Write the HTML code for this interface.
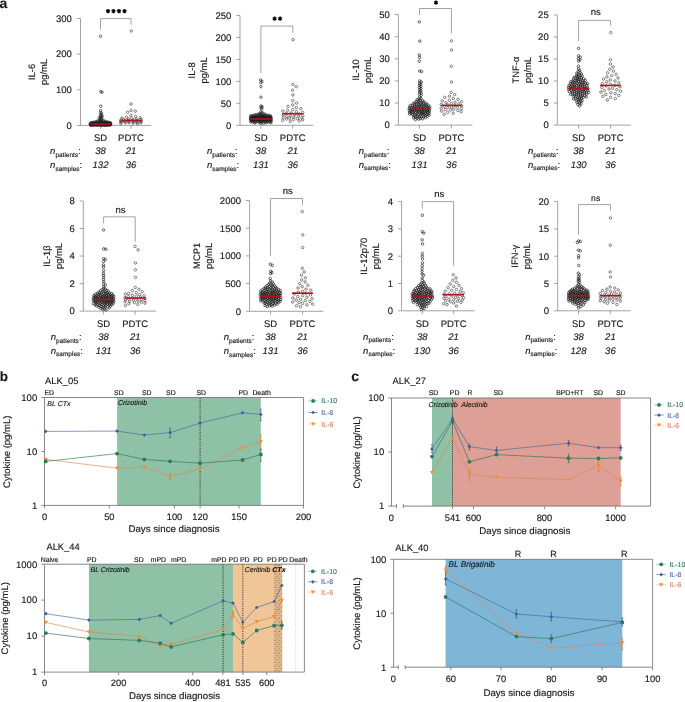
<!DOCTYPE html>
<html><head><meta charset="utf-8"><style>
html,body{margin:0;padding:0;background:#fff;}
svg{display:block;will-change:transform;}
text{font-family:"Liberation Sans", sans-serif;fill:#1a1a1a;text-rendering:geometricPrecision;stroke:currentColor;stroke-width:0.15px;stroke-linejoin:round;color:#1a1a1a;}
</style></head><body>
<svg width="685" height="702" viewBox="0 0 685 702">
<rect width="685" height="702" fill="#fff"/>
<g stroke="#8c8c8c" stroke-width="0.8" fill="none">
<path d="M80.5,18.5 V125.4 H151.3"/>
<path d="M76.9,125.40 H80.5"/>
<path d="M76.9,89.77 H80.5"/>
<path d="M76.9,54.13 H80.5"/>
<path d="M76.9,18.50 H80.5"/>
<path d="M100.5,125.4 V128.8"/>
<path d="M131.0,125.4 V128.8"/>
<path d="M100.5,29.6 V18.6 H131.0 V24.6"/>
</g>
<text x="71.90" y="128.75" font-size="9.5" text-anchor="end" >0</text>
<text x="71.90" y="93.12" font-size="9.5" text-anchor="end" >100</text>
<text x="71.90" y="57.48" font-size="9.5" text-anchor="end" >200</text>
<text x="71.90" y="21.85" font-size="9.5" text-anchor="end" >300</text>
<path d="M108.00,8.95 L108.00,13.25 M106.14,10.03 L109.86,12.18 M109.86,10.03 L106.14,12.18" stroke="#000" stroke-width="1.45"/>
<path d="M113.50,8.95 L113.50,13.25 M111.64,10.03 L115.36,12.18 M115.36,10.03 L111.64,12.18" stroke="#000" stroke-width="1.45"/>
<path d="M119.00,8.95 L119.00,13.25 M117.14,10.03 L120.86,12.18 M120.86,10.03 L117.14,12.18" stroke="#000" stroke-width="1.45"/>
<path d="M124.50,8.95 L124.50,13.25 M122.64,10.03 L126.36,12.18 M126.36,10.03 L122.64,12.18" stroke="#000" stroke-width="1.45"/>
<text transform="translate(35.40,71.95) rotate(-90)" font-size="9.4" text-anchor="middle">IL-6</text>
<text transform="translate(47.40,71.95) rotate(-90)" font-size="9.4" text-anchor="middle">pg/mL</text>
<text x="100.50" y="141.10" font-size="9.5" text-anchor="middle" >SD</text>
<text x="131.00" y="141.10" font-size="9.5" text-anchor="middle" >PDTC</text>
<text x="50.1" y="154.40" font-size="9.5"><tspan font-style="italic">n</tspan><tspan font-size="6.5" dy="2.6">patients</tspan><tspan dy="-2.6">:</tspan></text>
<text x="100.50" y="154.40" font-size="9.5" text-anchor="middle" font-style="italic">38</text>
<text x="131.00" y="154.40" font-size="9.5" text-anchor="middle" font-style="italic">21</text>
<text x="50.1" y="168.10" font-size="9.5"><tspan font-style="italic">n</tspan><tspan font-size="6.5" dy="2.6">samples</tspan><tspan dy="-2.6">:</tspan></text>
<text x="100.50" y="168.10" font-size="9.5" text-anchor="middle" font-style="italic">132</text>
<text x="131.00" y="168.10" font-size="9.5" text-anchor="middle" font-style="italic">36</text>
<g fill="none" stroke="#1c1c1c" stroke-width="0.66">
<circle cx="100.49" cy="36.32" r="1.25"/>
<circle cx="100.74" cy="91.55" r="1.25"/>
<circle cx="102.02" cy="92.26" r="1.25"/>
<circle cx="100.73" cy="106.16" r="1.25"/>
<circle cx="100.54" cy="110.61" r="1.25"/>
<circle cx="100.80" cy="112.54" r="1.25"/>
<circle cx="101.41" cy="113.54" r="1.25"/>
<circle cx="100.60" cy="114.84" r="1.25"/>
<circle cx="101.99" cy="115.55" r="1.25"/>
<circle cx="100.54" cy="116.30" r="1.25"/>
<circle cx="101.89" cy="116.90" r="1.25"/>
<circle cx="100.68" cy="117.67" r="1.25"/>
<circle cx="99.19" cy="117.98" r="1.25"/>
<circle cx="101.60" cy="118.55" r="1.25"/>
<circle cx="100.55" cy="119.61" r="1.25"/>
<circle cx="101.73" cy="119.93" r="1.25"/>
<circle cx="99.16" cy="120.32" r="1.25"/>
<circle cx="103.40" cy="120.64" r="1.25"/>
<circle cx="100.76" cy="120.90" r="1.25"/>
<circle cx="97.34" cy="121.13" r="1.25"/>
<circle cx="104.88" cy="121.32" r="1.25"/>
<circle cx="102.27" cy="121.49" r="1.25"/>
<circle cx="99.48" cy="121.65" r="1.25"/>
<circle cx="96.22" cy="121.79" r="1.25"/>
<circle cx="106.56" cy="121.91" r="1.25"/>
<circle cx="94.44" cy="122.03" r="1.25"/>
<circle cx="107.91" cy="122.14" r="1.25"/>
<circle cx="101.21" cy="122.23" r="1.25"/>
<circle cx="98.13" cy="122.33" r="1.25"/>
<circle cx="103.52" cy="122.41" r="1.25"/>
<circle cx="92.86" cy="122.49" r="1.25"/>
<circle cx="109.76" cy="122.57" r="1.25"/>
<circle cx="105.10" cy="122.64" r="1.25"/>
<circle cx="91.71" cy="122.71" r="1.25"/>
<circle cx="101.86" cy="122.77" r="1.25"/>
<circle cx="99.56" cy="122.84" r="1.25"/>
<circle cx="96.47" cy="122.89" r="1.25"/>
<circle cx="106.90" cy="122.95" r="1.25"/>
<circle cx="95.19" cy="123.00" r="1.25"/>
<circle cx="110.56" cy="123.05" r="1.25"/>
<circle cx="90.80" cy="123.10" r="1.25"/>
<circle cx="108.70" cy="123.15" r="1.25"/>
<circle cx="93.71" cy="123.20" r="1.25"/>
<circle cx="98.07" cy="123.24" r="1.25"/>
<circle cx="100.37" cy="123.28" r="1.25"/>
<circle cx="106.18" cy="123.32" r="1.25"/>
<circle cx="104.19" cy="123.36" r="1.25"/>
<circle cx="92.31" cy="123.40" r="1.25"/>
<circle cx="102.76" cy="123.44" r="1.25"/>
<circle cx="96.52" cy="123.48" r="1.25"/>
<circle cx="99.20" cy="123.51" r="1.25"/>
<circle cx="109.58" cy="123.55" r="1.25"/>
<circle cx="107.29" cy="123.58" r="1.25"/>
<circle cx="101.02" cy="123.61" r="1.25"/>
<circle cx="90.48" cy="123.64" r="1.25"/>
<circle cx="104.73" cy="123.67" r="1.25"/>
<circle cx="95.28" cy="123.70" r="1.25"/>
<circle cx="93.24" cy="123.73" r="1.25"/>
<circle cx="92.24" cy="123.76" r="1.25"/>
<circle cx="97.48" cy="123.79" r="1.25"/>
<circle cx="110.31" cy="123.82" r="1.25"/>
<circle cx="103.41" cy="123.84" r="1.25"/>
<circle cx="105.83" cy="123.87" r="1.25"/>
<circle cx="99.38" cy="123.89" r="1.25"/>
<circle cx="108.43" cy="123.92" r="1.25"/>
<circle cx="101.98" cy="123.94" r="1.25"/>
<circle cx="94.99" cy="123.97" r="1.25"/>
<circle cx="91.78" cy="123.99" r="1.25"/>
<circle cx="106.72" cy="124.01" r="1.25"/>
<circle cx="96.96" cy="124.04" r="1.25"/>
<circle cx="104.85" cy="124.06" r="1.25"/>
<circle cx="109.76" cy="124.08" r="1.25"/>
<circle cx="93.41" cy="124.10" r="1.25"/>
<circle cx="98.33" cy="124.12" r="1.25"/>
<circle cx="100.72" cy="124.15" r="1.25"/>
<circle cx="90.32" cy="124.17" r="1.25"/>
<circle cx="103.56" cy="124.19" r="1.25"/>
<circle cx="110.61" cy="124.21" r="1.25"/>
<circle cx="102.26" cy="124.23" r="1.25"/>
<circle cx="95.93" cy="124.25" r="1.25"/>
<circle cx="94.58" cy="124.26" r="1.25"/>
<circle cx="107.92" cy="124.28" r="1.25"/>
<circle cx="106.23" cy="124.30" r="1.25"/>
<circle cx="92.71" cy="124.32" r="1.25"/>
<circle cx="100.23" cy="124.34" r="1.25"/>
<circle cx="98.25" cy="124.36" r="1.25"/>
<circle cx="104.77" cy="124.38" r="1.25"/>
<circle cx="90.67" cy="124.39" r="1.25"/>
<circle cx="108.22" cy="124.41" r="1.25"/>
<circle cx="103.22" cy="124.43" r="1.25"/>
<circle cx="96.64" cy="124.45" r="1.25"/>
<circle cx="101.59" cy="124.46" r="1.25"/>
<circle cx="110.56" cy="124.48" r="1.25"/>
<circle cx="94.79" cy="124.50" r="1.25"/>
<circle cx="92.93" cy="124.51" r="1.25"/>
<circle cx="91.58" cy="124.53" r="1.25"/>
<circle cx="98.69" cy="124.55" r="1.25"/>
<circle cx="105.98" cy="124.56" r="1.25"/>
<circle cx="109.46" cy="124.58" r="1.25"/>
<circle cx="100.22" cy="124.59" r="1.25"/>
<circle cx="104.40" cy="124.61" r="1.25"/>
<circle cx="102.61" cy="124.63" r="1.25"/>
<circle cx="107.31" cy="124.64" r="1.25"/>
<circle cx="96.13" cy="124.66" r="1.25"/>
<circle cx="97.69" cy="124.67" r="1.25"/>
<circle cx="100.89" cy="124.69" r="1.25"/>
<circle cx="90.63" cy="124.71" r="1.25"/>
<circle cx="92.79" cy="124.72" r="1.25"/>
<circle cx="94.03" cy="124.74" r="1.25"/>
<circle cx="98.75" cy="124.75" r="1.25"/>
<circle cx="109.01" cy="124.77" r="1.25"/>
<circle cx="103.23" cy="124.79" r="1.25"/>
<circle cx="106.06" cy="124.80" r="1.25"/>
<circle cx="110.29" cy="124.82" r="1.25"/>
<circle cx="95.59" cy="124.83" r="1.25"/>
<circle cx="107.39" cy="124.85" r="1.25"/>
<circle cx="104.76" cy="124.87" r="1.25"/>
<circle cx="91.27" cy="124.88" r="1.25"/>
<circle cx="97.18" cy="124.90" r="1.25"/>
<circle cx="101.36" cy="124.92" r="1.25"/>
<circle cx="99.59" cy="124.94" r="1.25"/>
<circle cx="93.61" cy="124.95" r="1.25"/>
<circle cx="94.75" cy="124.97" r="1.25"/>
<circle cx="109.36" cy="124.99" r="1.25"/>
<circle cx="90.62" cy="125.01" r="1.25"/>
<circle cx="106.07" cy="125.03" r="1.25"/>
<circle cx="102.96" cy="125.06" r="1.25"/>
<circle cx="97.44" cy="125.08" r="1.25"/>
<circle cx="107.52" cy="125.11" r="1.25"/>
<circle cx="104.70" cy="125.14" r="1.25"/>
<circle cx="91.74" cy="125.18" r="1.25"/>
<circle cx="101.09" cy="125.23" r="1.25"/>
</g>
<path d="M90.00,124.08 H111.00" stroke="#b3131b" stroke-width="1.6"/>
<g fill="none" stroke="#2e2e2e" stroke-width="0.58">
<circle cx="131.26" cy="30.97" r="1.25"/>
<circle cx="131.05" cy="104.02" r="1.25"/>
<circle cx="131.04" cy="110.43" r="1.25"/>
<circle cx="135.21" cy="111.15" r="1.25"/>
<circle cx="127.61" cy="112.22" r="1.25"/>
<circle cx="130.88" cy="115.43" r="1.25"/>
<circle cx="135.51" cy="116.43" r="1.25"/>
<circle cx="126.58" cy="117.15" r="1.25"/>
<circle cx="140.04" cy="117.70" r="1.25"/>
<circle cx="121.97" cy="118.15" r="1.25"/>
<circle cx="131.71" cy="118.54" r="1.25"/>
<circle cx="136.25" cy="118.88" r="1.25"/>
<circle cx="128.57" cy="119.18" r="1.25"/>
<circle cx="141.10" cy="119.45" r="1.25"/>
<circle cx="123.70" cy="119.70" r="1.25"/>
<circle cx="132.87" cy="119.93" r="1.25"/>
<circle cx="120.84" cy="120.15" r="1.25"/>
<circle cx="137.24" cy="120.35" r="1.25"/>
<circle cx="128.10" cy="120.54" r="1.25"/>
<circle cx="124.88" cy="120.73" r="1.25"/>
<circle cx="141.08" cy="120.90" r="1.25"/>
<circle cx="133.07" cy="121.07" r="1.25"/>
<circle cx="136.50" cy="121.24" r="1.25"/>
<circle cx="120.84" cy="121.40" r="1.25"/>
<circle cx="129.04" cy="121.56" r="1.25"/>
<circle cx="141.06" cy="121.72" r="1.25"/>
<circle cx="124.73" cy="121.88" r="1.25"/>
<circle cx="133.53" cy="122.04" r="1.25"/>
<circle cx="121.21" cy="122.20" r="1.25"/>
<circle cx="137.16" cy="122.36" r="1.25"/>
<circle cx="129.03" cy="122.53" r="1.25"/>
<circle cx="125.73" cy="122.71" r="1.25"/>
<circle cx="140.65" cy="122.91" r="1.25"/>
<circle cx="132.99" cy="123.13" r="1.25"/>
<circle cx="120.82" cy="123.40" r="1.25"/>
<circle cx="137.34" cy="123.83" r="1.25"/>
</g>
<path d="M120.50,120.48 H141.50" stroke="#b3131b" stroke-width="1.6"/>
<g stroke="#8c8c8c" stroke-width="0.8" fill="none">
<path d="M240.0,15.5 V125.3 H313.2"/>
<path d="M236.4,125.30 H240.0"/>
<path d="M236.4,103.34 H240.0"/>
<path d="M236.4,81.38 H240.0"/>
<path d="M236.4,59.42 H240.0"/>
<path d="M236.4,37.46 H240.0"/>
<path d="M236.4,15.50 H240.0"/>
<path d="M260.9,125.3 V128.7"/>
<path d="M292.8,125.3 V128.7"/>
<path d="M260.9,73.0 V26.1 H292.8 V32.8"/>
</g>
<text x="231.40" y="128.65" font-size="9.5" text-anchor="end" >0</text>
<text x="231.40" y="106.69" font-size="9.5" text-anchor="end" >50</text>
<text x="231.40" y="84.73" font-size="9.5" text-anchor="end" >100</text>
<text x="231.40" y="62.77" font-size="9.5" text-anchor="end" >150</text>
<text x="231.40" y="40.81" font-size="9.5" text-anchor="end" >200</text>
<text x="231.40" y="18.85" font-size="9.5" text-anchor="end" >250</text>
<path d="M274.60,16.45 L274.60,20.75 M272.74,17.53 L276.46,19.68 M276.46,17.53 L272.74,19.68" stroke="#000" stroke-width="1.45"/>
<path d="M280.10,16.45 L280.10,20.75 M278.24,17.53 L281.96,19.68 M281.96,17.53 L278.24,19.68" stroke="#000" stroke-width="1.45"/>
<text transform="translate(195.00,70.40) rotate(-90)" font-size="9.4" text-anchor="middle">IL-8</text>
<text transform="translate(207.00,70.40) rotate(-90)" font-size="9.4" text-anchor="middle">pg/mL</text>
<text x="260.90" y="141.00" font-size="9.5" text-anchor="middle" >SD</text>
<text x="292.80" y="141.00" font-size="9.5" text-anchor="middle" >PDTC</text>
<text x="207.0" y="154.30" font-size="9.5"><tspan font-style="italic">n</tspan><tspan font-size="6.5" dy="2.6">patients</tspan><tspan dy="-2.6">:</tspan></text>
<text x="260.90" y="154.30" font-size="9.5" text-anchor="middle" font-style="italic">38</text>
<text x="292.80" y="154.30" font-size="9.5" text-anchor="middle" font-style="italic">21</text>
<text x="207.0" y="168.00" font-size="9.5"><tspan font-style="italic">n</tspan><tspan font-size="6.5" dy="2.6">samples</tspan><tspan dy="-2.6">:</tspan></text>
<text x="260.90" y="168.00" font-size="9.5" text-anchor="middle" font-style="italic">131</text>
<text x="292.80" y="168.00" font-size="9.5" text-anchor="middle" font-style="italic">36</text>
<g fill="none" stroke="#1c1c1c" stroke-width="0.66">
<circle cx="260.63" cy="80.06" r="1.25"/>
<circle cx="261.92" cy="81.38" r="1.25"/>
<circle cx="260.87" cy="82.70" r="1.25"/>
<circle cx="261.01" cy="86.65" r="1.25"/>
<circle cx="260.96" cy="97.19" r="1.25"/>
<circle cx="261.06" cy="105.98" r="1.25"/>
<circle cx="262.13" cy="106.85" r="1.25"/>
<circle cx="260.98" cy="107.73" r="1.25"/>
<circle cx="261.73" cy="109.05" r="1.25"/>
<circle cx="260.90" cy="111.81" r="1.25"/>
<circle cx="262.22" cy="112.79" r="1.25"/>
<circle cx="259.91" cy="113.31" r="1.25"/>
<circle cx="263.60" cy="113.68" r="1.25"/>
<circle cx="258.56" cy="113.97" r="1.25"/>
<circle cx="261.69" cy="114.22" r="1.25"/>
<circle cx="265.39" cy="114.43" r="1.25"/>
<circle cx="256.67" cy="114.61" r="1.25"/>
<circle cx="255.16" cy="114.78" r="1.25"/>
<circle cx="259.76" cy="114.93" r="1.25"/>
<circle cx="262.71" cy="115.07" r="1.25"/>
<circle cx="266.70" cy="115.20" r="1.25"/>
<circle cx="269.09" cy="115.33" r="1.25"/>
<circle cx="253.25" cy="115.44" r="1.25"/>
<circle cx="251.11" cy="115.55" r="1.25"/>
<circle cx="258.68" cy="115.66" r="1.25"/>
<circle cx="264.27" cy="115.76" r="1.25"/>
<circle cx="261.67" cy="115.85" r="1.25"/>
<circle cx="270.33" cy="115.95" r="1.25"/>
<circle cx="255.91" cy="116.04" r="1.25"/>
<circle cx="266.02" cy="116.12" r="1.25"/>
<circle cx="259.88" cy="116.20" r="1.25"/>
<circle cx="268.04" cy="116.29" r="1.25"/>
<circle cx="254.10" cy="116.36" r="1.25"/>
<circle cx="263.00" cy="116.44" r="1.25"/>
<circle cx="257.28" cy="116.52" r="1.25"/>
<circle cx="252.34" cy="116.59" r="1.25"/>
<circle cx="250.69" cy="116.66" r="1.25"/>
<circle cx="269.48" cy="116.73" r="1.25"/>
<circle cx="264.54" cy="116.80" r="1.25"/>
<circle cx="261.30" cy="116.87" r="1.25"/>
<circle cx="270.83" cy="116.93" r="1.25"/>
<circle cx="259.12" cy="117.00" r="1.25"/>
<circle cx="266.27" cy="117.06" r="1.25"/>
<circle cx="256.04" cy="117.13" r="1.25"/>
<circle cx="253.75" cy="117.19" r="1.25"/>
<circle cx="268.15" cy="117.25" r="1.25"/>
<circle cx="263.19" cy="117.31" r="1.25"/>
<circle cx="260.36" cy="117.37" r="1.25"/>
<circle cx="257.25" cy="117.43" r="1.25"/>
<circle cx="252.69" cy="117.49" r="1.25"/>
<circle cx="264.94" cy="117.55" r="1.25"/>
<circle cx="250.71" cy="117.60" r="1.25"/>
<circle cx="269.65" cy="117.66" r="1.25"/>
<circle cx="255.32" cy="117.72" r="1.25"/>
<circle cx="270.88" cy="117.77" r="1.25"/>
<circle cx="259.02" cy="117.83" r="1.25"/>
<circle cx="266.60" cy="117.88" r="1.25"/>
<circle cx="261.81" cy="117.94" r="1.25"/>
<circle cx="253.75" cy="117.99" r="1.25"/>
<circle cx="263.39" cy="118.05" r="1.25"/>
<circle cx="268.08" cy="118.10" r="1.25"/>
<circle cx="256.80" cy="118.15" r="1.25"/>
<circle cx="260.38" cy="118.21" r="1.25"/>
<circle cx="252.32" cy="118.26" r="1.25"/>
<circle cx="264.79" cy="118.31" r="1.25"/>
<circle cx="250.62" cy="118.37" r="1.25"/>
<circle cx="269.33" cy="118.42" r="1.25"/>
<circle cx="258.68" cy="118.47" r="1.25"/>
<circle cx="271.06" cy="118.52" r="1.25"/>
<circle cx="255.24" cy="118.58" r="1.25"/>
<circle cx="261.78" cy="118.63" r="1.25"/>
<circle cx="266.38" cy="118.68" r="1.25"/>
<circle cx="254.06" cy="118.73" r="1.25"/>
<circle cx="263.22" cy="118.79" r="1.25"/>
<circle cx="268.18" cy="118.84" r="1.25"/>
<circle cx="259.74" cy="118.89" r="1.25"/>
<circle cx="257.11" cy="118.94" r="1.25"/>
<circle cx="252.50" cy="119.00" r="1.25"/>
<circle cx="265.10" cy="119.05" r="1.25"/>
<circle cx="250.65" cy="119.10" r="1.25"/>
<circle cx="269.57" cy="119.15" r="1.25"/>
<circle cx="258.57" cy="119.21" r="1.25"/>
<circle cx="255.10" cy="119.26" r="1.25"/>
<circle cx="270.84" cy="119.31" r="1.25"/>
<circle cx="261.61" cy="119.37" r="1.25"/>
<circle cx="266.20" cy="119.42" r="1.25"/>
<circle cx="253.63" cy="119.48" r="1.25"/>
<circle cx="263.36" cy="119.53" r="1.25"/>
<circle cx="268.18" cy="119.59" r="1.25"/>
<circle cx="259.60" cy="119.64" r="1.25"/>
<circle cx="256.96" cy="119.70" r="1.25"/>
<circle cx="252.50" cy="119.75" r="1.25"/>
<circle cx="264.63" cy="119.81" r="1.25"/>
<circle cx="250.78" cy="119.87" r="1.25"/>
<circle cx="269.63" cy="119.93" r="1.25"/>
<circle cx="258.65" cy="119.98" r="1.25"/>
<circle cx="262.01" cy="120.04" r="1.25"/>
<circle cx="255.62" cy="120.10" r="1.25"/>
<circle cx="271.06" cy="120.16" r="1.25"/>
<circle cx="266.26" cy="120.23" r="1.25"/>
<circle cx="253.64" cy="120.29" r="1.25"/>
<circle cx="263.56" cy="120.35" r="1.25"/>
<circle cx="260.16" cy="120.41" r="1.25"/>
<circle cx="267.65" cy="120.48" r="1.25"/>
<circle cx="257.11" cy="120.55" r="1.25"/>
<circle cx="252.65" cy="120.61" r="1.25"/>
<circle cx="264.99" cy="120.68" r="1.25"/>
<circle cx="251.14" cy="120.75" r="1.25"/>
<circle cx="259.07" cy="120.82" r="1.25"/>
<circle cx="269.69" cy="120.90" r="1.25"/>
<circle cx="261.94" cy="120.97" r="1.25"/>
<circle cx="255.25" cy="121.05" r="1.25"/>
<circle cx="270.99" cy="121.13" r="1.25"/>
<circle cx="266.58" cy="121.21" r="1.25"/>
<circle cx="253.93" cy="121.29" r="1.25"/>
<circle cx="263.59" cy="121.37" r="1.25"/>
<circle cx="257.37" cy="121.46" r="1.25"/>
<circle cx="260.46" cy="121.56" r="1.25"/>
<circle cx="267.66" cy="121.65" r="1.25"/>
<circle cx="252.49" cy="121.75" r="1.25"/>
<circle cx="265.12" cy="121.85" r="1.25"/>
<circle cx="250.88" cy="121.96" r="1.25"/>
<circle cx="259.13" cy="122.08" r="1.25"/>
<circle cx="269.57" cy="122.20" r="1.25"/>
<circle cx="255.70" cy="122.33" r="1.25"/>
<circle cx="261.75" cy="122.47" r="1.25"/>
<circle cx="270.97" cy="122.62" r="1.25"/>
<circle cx="266.41" cy="122.79" r="1.25"/>
<circle cx="254.57" cy="122.97" r="1.25"/>
<circle cx="260.34" cy="123.17" r="1.25"/>
<circle cx="263.41" cy="123.41" r="1.25"/>
</g>
<path d="M250.40,118.93 H271.40" stroke="#b3131b" stroke-width="1.6"/>
<g fill="none" stroke="#2e2e2e" stroke-width="0.58">
<circle cx="293.06" cy="39.66" r="1.25"/>
<circle cx="292.84" cy="84.45" r="1.25"/>
<circle cx="296.19" cy="86.65" r="1.25"/>
<circle cx="292.52" cy="90.16" r="1.25"/>
<circle cx="292.93" cy="95.00" r="1.25"/>
<circle cx="292.71" cy="100.60" r="1.25"/>
<circle cx="296.62" cy="103.09" r="1.25"/>
<circle cx="292.73" cy="104.94" r="1.25"/>
<circle cx="288.04" cy="106.40" r="1.25"/>
<circle cx="296.33" cy="107.62" r="1.25"/>
<circle cx="300.87" cy="108.67" r="1.25"/>
<circle cx="292.68" cy="109.58" r="1.25"/>
<circle cx="287.59" cy="110.40" r="1.25"/>
<circle cx="282.88" cy="111.13" r="1.25"/>
<circle cx="296.41" cy="111.80" r="1.25"/>
<circle cx="302.67" cy="112.42" r="1.25"/>
<circle cx="291.16" cy="113.00" r="1.25"/>
<circle cx="286.28" cy="113.54" r="1.25"/>
<circle cx="299.24" cy="114.05" r="1.25"/>
<circle cx="294.83" cy="114.53" r="1.25"/>
<circle cx="283.19" cy="114.99" r="1.25"/>
<circle cx="302.84" cy="115.44" r="1.25"/>
<circle cx="290.21" cy="115.86" r="1.25"/>
<circle cx="298.30" cy="116.28" r="1.25"/>
<circle cx="286.64" cy="116.68" r="1.25"/>
<circle cx="293.83" cy="117.08" r="1.25"/>
<circle cx="283.16" cy="117.47" r="1.25"/>
<circle cx="301.89" cy="117.85" r="1.25"/>
<circle cx="289.82" cy="118.24" r="1.25"/>
<circle cx="297.58" cy="118.63" r="1.25"/>
<circle cx="286.64" cy="119.02" r="1.25"/>
<circle cx="293.61" cy="119.43" r="1.25"/>
<circle cx="302.62" cy="119.85" r="1.25"/>
<circle cx="282.75" cy="120.31" r="1.25"/>
<circle cx="299.17" cy="120.81" r="1.25"/>
<circle cx="290.31" cy="121.41" r="1.25"/>
</g>
<path d="M282.30,113.71 H303.30" stroke="#b3131b" stroke-width="1.6"/>
<g stroke="#8c8c8c" stroke-width="0.8" fill="none">
<path d="M398.4,14.6 V125.1 H472.4"/>
<path d="M394.79999999999995,125.10 H398.4"/>
<path d="M394.79999999999995,103.00 H398.4"/>
<path d="M394.79999999999995,80.90 H398.4"/>
<path d="M394.79999999999995,58.80 H398.4"/>
<path d="M394.79999999999995,36.70 H398.4"/>
<path d="M394.79999999999995,14.60 H398.4"/>
<path d="M419.5,125.1 V128.5"/>
<path d="M451.4,125.1 V128.5"/>
<path d="M419.5,14.9 V8.5 H451.4 V33.3"/>
</g>
<text x="389.80" y="128.45" font-size="9.5" text-anchor="end" >0</text>
<text x="389.80" y="106.35" font-size="9.5" text-anchor="end" >10</text>
<text x="389.80" y="84.25" font-size="9.5" text-anchor="end" >20</text>
<text x="389.80" y="62.15" font-size="9.5" text-anchor="end" >30</text>
<text x="389.80" y="40.05" font-size="9.5" text-anchor="end" >40</text>
<text x="389.80" y="17.95" font-size="9.5" text-anchor="end" >50</text>
<path d="M435.95,0.45 L435.95,4.75 M434.09,1.52 L437.81,3.67 M437.81,1.52 L434.09,3.67" stroke="#000" stroke-width="1.45"/>
<text transform="translate(359.30,69.85) rotate(-90)" font-size="9.4" text-anchor="middle">IL-10</text>
<text transform="translate(371.30,69.85) rotate(-90)" font-size="9.4" text-anchor="middle">pg/mL</text>
<text x="419.50" y="140.80" font-size="9.5" text-anchor="middle" >SD</text>
<text x="451.40" y="140.80" font-size="9.5" text-anchor="middle" >PDTC</text>
<text x="358.8" y="154.10" font-size="9.5"><tspan font-style="italic">n</tspan><tspan font-size="6.5" dy="2.6">patients</tspan><tspan dy="-2.6">:</tspan></text>
<text x="419.50" y="154.10" font-size="9.5" text-anchor="middle" font-style="italic">38</text>
<text x="451.40" y="154.10" font-size="9.5" text-anchor="middle" font-style="italic">21</text>
<text x="358.8" y="167.80" font-size="9.5"><tspan font-style="italic">n</tspan><tspan font-size="6.5" dy="2.6">samples</tspan><tspan dy="-2.6">:</tspan></text>
<text x="419.50" y="167.80" font-size="9.5" text-anchor="middle" font-style="italic">131</text>
<text x="451.40" y="167.80" font-size="9.5" text-anchor="middle" font-style="italic">36</text>
<g fill="none" stroke="#1c1c1c" stroke-width="0.66">
<circle cx="419.29" cy="21.89" r="1.25"/>
<circle cx="419.80" cy="41.12" r="1.25"/>
<circle cx="419.31" cy="55.04" r="1.25"/>
<circle cx="419.59" cy="57.47" r="1.25"/>
<circle cx="419.28" cy="61.23" r="1.25"/>
<circle cx="419.71" cy="70.95" r="1.25"/>
<circle cx="421.55" cy="71.62" r="1.25"/>
<circle cx="419.78" cy="80.90" r="1.25"/>
<circle cx="421.27" cy="82.00" r="1.25"/>
<circle cx="419.52" cy="83.11" r="1.25"/>
<circle cx="420.82" cy="84.22" r="1.25"/>
<circle cx="419.54" cy="85.32" r="1.25"/>
<circle cx="420.73" cy="86.42" r="1.25"/>
<circle cx="419.40" cy="87.53" r="1.25"/>
<circle cx="420.78" cy="88.63" r="1.25"/>
<circle cx="419.64" cy="89.74" r="1.25"/>
<circle cx="420.80" cy="90.84" r="1.25"/>
<circle cx="419.68" cy="91.95" r="1.25"/>
<circle cx="421.15" cy="93.05" r="1.25"/>
<circle cx="419.41" cy="94.16" r="1.25"/>
<circle cx="421.19" cy="95.26" r="1.25"/>
<circle cx="419.57" cy="97.14" r="1.25"/>
<circle cx="420.87" cy="98.23" r="1.25"/>
<circle cx="419.15" cy="99.03" r="1.25"/>
<circle cx="417.11" cy="99.67" r="1.25"/>
<circle cx="420.29" cy="100.21" r="1.25"/>
<circle cx="422.61" cy="100.68" r="1.25"/>
<circle cx="418.29" cy="101.09" r="1.25"/>
<circle cx="416.40" cy="101.47" r="1.25"/>
<circle cx="423.84" cy="101.82" r="1.25"/>
<circle cx="419.93" cy="102.14" r="1.25"/>
<circle cx="422.06" cy="102.44" r="1.25"/>
<circle cx="415.09" cy="102.72" r="1.25"/>
<circle cx="418.06" cy="102.98" r="1.25"/>
<circle cx="425.57" cy="103.23" r="1.25"/>
<circle cx="413.25" cy="103.47" r="1.25"/>
<circle cx="423.75" cy="103.70" r="1.25"/>
<circle cx="420.42" cy="103.93" r="1.25"/>
<circle cx="416.63" cy="104.14" r="1.25"/>
<circle cx="426.97" cy="104.34" r="1.25"/>
<circle cx="414.49" cy="104.54" r="1.25"/>
<circle cx="418.59" cy="104.74" r="1.25"/>
<circle cx="422.16" cy="104.92" r="1.25"/>
<circle cx="425.01" cy="105.11" r="1.25"/>
<circle cx="412.38" cy="105.28" r="1.25"/>
<circle cx="428.44" cy="105.46" r="1.25"/>
<circle cx="410.28" cy="105.63" r="1.25"/>
<circle cx="420.00" cy="105.79" r="1.25"/>
<circle cx="417.11" cy="105.96" r="1.25"/>
<circle cx="423.57" cy="106.12" r="1.25"/>
<circle cx="414.80" cy="106.27" r="1.25"/>
<circle cx="426.66" cy="106.43" r="1.25"/>
<circle cx="421.71" cy="106.58" r="1.25"/>
<circle cx="418.45" cy="106.73" r="1.25"/>
<circle cx="429.63" cy="106.88" r="1.25"/>
<circle cx="413.05" cy="107.03" r="1.25"/>
<circle cx="409.55" cy="107.17" r="1.25"/>
<circle cx="425.20" cy="107.31" r="1.25"/>
<circle cx="427.81" cy="107.45" r="1.25"/>
<circle cx="420.14" cy="107.59" r="1.25"/>
<circle cx="416.26" cy="107.73" r="1.25"/>
<circle cx="422.87" cy="107.87" r="1.25"/>
<circle cx="414.68" cy="108.01" r="1.25"/>
<circle cx="411.28" cy="108.14" r="1.25"/>
<circle cx="426.77" cy="108.27" r="1.25"/>
<circle cx="417.91" cy="108.41" r="1.25"/>
<circle cx="429.69" cy="108.54" r="1.25"/>
<circle cx="421.71" cy="108.67" r="1.25"/>
<circle cx="409.27" cy="108.80" r="1.25"/>
<circle cx="424.31" cy="108.93" r="1.25"/>
<circle cx="412.94" cy="109.06" r="1.25"/>
<circle cx="419.67" cy="109.19" r="1.25"/>
<circle cx="428.01" cy="109.32" r="1.25"/>
<circle cx="416.03" cy="109.45" r="1.25"/>
<circle cx="423.11" cy="109.58" r="1.25"/>
<circle cx="410.97" cy="109.70" r="1.25"/>
<circle cx="426.15" cy="109.83" r="1.25"/>
<circle cx="414.20" cy="109.96" r="1.25"/>
<circle cx="417.86" cy="110.09" r="1.25"/>
<circle cx="421.05" cy="110.21" r="1.25"/>
<circle cx="429.39" cy="110.34" r="1.25"/>
<circle cx="409.35" cy="110.47" r="1.25"/>
<circle cx="412.45" cy="110.60" r="1.25"/>
<circle cx="424.26" cy="110.72" r="1.25"/>
<circle cx="427.44" cy="110.85" r="1.25"/>
<circle cx="419.22" cy="110.98" r="1.25"/>
<circle cx="416.36" cy="111.11" r="1.25"/>
<circle cx="422.77" cy="111.24" r="1.25"/>
<circle cx="411.12" cy="111.37" r="1.25"/>
<circle cx="413.87" cy="111.50" r="1.25"/>
<circle cx="426.14" cy="111.63" r="1.25"/>
<circle cx="429.06" cy="111.77" r="1.25"/>
<circle cx="417.75" cy="111.90" r="1.25"/>
<circle cx="421.20" cy="112.03" r="1.25"/>
<circle cx="409.61" cy="112.17" r="1.25"/>
<circle cx="423.82" cy="112.30" r="1.25"/>
<circle cx="412.72" cy="112.44" r="1.25"/>
<circle cx="415.54" cy="112.58" r="1.25"/>
<circle cx="427.59" cy="112.72" r="1.25"/>
<circle cx="419.70" cy="112.86" r="1.25"/>
<circle cx="422.22" cy="113.00" r="1.25"/>
<circle cx="411.08" cy="113.15" r="1.25"/>
<circle cx="425.56" cy="113.30" r="1.25"/>
<circle cx="429.24" cy="113.44" r="1.25"/>
<circle cx="417.21" cy="113.59" r="1.25"/>
<circle cx="414.25" cy="113.75" r="1.25"/>
<circle cx="421.18" cy="113.90" r="1.25"/>
<circle cx="409.48" cy="114.06" r="1.25"/>
<circle cx="423.80" cy="114.22" r="1.25"/>
<circle cx="426.79" cy="114.39" r="1.25"/>
<circle cx="418.48" cy="114.55" r="1.25"/>
<circle cx="412.22" cy="114.72" r="1.25"/>
<circle cx="415.50" cy="114.90" r="1.25"/>
<circle cx="422.52" cy="115.08" r="1.25"/>
<circle cx="428.80" cy="115.26" r="1.25"/>
<circle cx="425.26" cy="115.45" r="1.25"/>
<circle cx="420.13" cy="115.64" r="1.25"/>
<circle cx="413.75" cy="115.84" r="1.25"/>
<circle cx="417.22" cy="116.05" r="1.25"/>
<circle cx="427.33" cy="116.27" r="1.25"/>
<circle cx="423.96" cy="116.49" r="1.25"/>
<circle cx="421.53" cy="116.72" r="1.25"/>
<circle cx="415.36" cy="116.96" r="1.25"/>
<circle cx="419.30" cy="117.22" r="1.25"/>
<circle cx="425.51" cy="117.49" r="1.25"/>
<circle cx="413.70" cy="117.77" r="1.25"/>
<circle cx="416.87" cy="118.07" r="1.25"/>
<circle cx="420.49" cy="118.40" r="1.25"/>
<circle cx="422.71" cy="118.75" r="1.25"/>
<circle cx="418.77" cy="119.14" r="1.25"/>
<circle cx="415.46" cy="119.56" r="1.25"/>
</g>
<path d="M409.00,109.19 H430.00" stroke="#b3131b" stroke-width="1.6"/>
<g fill="none" stroke="#2e2e2e" stroke-width="0.58">
<circle cx="451.40" cy="40.90" r="1.25"/>
<circle cx="451.55" cy="49.96" r="1.25"/>
<circle cx="451.33" cy="66.31" r="1.25"/>
<circle cx="451.43" cy="82.00" r="1.25"/>
<circle cx="451.17" cy="92.33" r="1.25"/>
<circle cx="454.72" cy="94.49" r="1.25"/>
<circle cx="449.57" cy="96.08" r="1.25"/>
<circle cx="444.81" cy="97.35" r="1.25"/>
<circle cx="453.22" cy="98.42" r="1.25"/>
<circle cx="457.99" cy="99.34" r="1.25"/>
<circle cx="449.32" cy="100.17" r="1.25"/>
<circle cx="442.25" cy="100.91" r="1.25"/>
<circle cx="461.48" cy="101.59" r="1.25"/>
<circle cx="455.09" cy="102.23" r="1.25"/>
<circle cx="445.98" cy="102.82" r="1.25"/>
<circle cx="451.46" cy="103.38" r="1.25"/>
<circle cx="458.84" cy="103.92" r="1.25"/>
<circle cx="441.32" cy="104.43" r="1.25"/>
<circle cx="447.85" cy="104.93" r="1.25"/>
<circle cx="454.84" cy="105.41" r="1.25"/>
<circle cx="461.60" cy="105.88" r="1.25"/>
<circle cx="444.33" cy="106.34" r="1.25"/>
<circle cx="451.51" cy="106.80" r="1.25"/>
<circle cx="457.48" cy="107.25" r="1.25"/>
<circle cx="447.86" cy="107.70" r="1.25"/>
<circle cx="441.20" cy="108.15" r="1.25"/>
<circle cx="461.53" cy="108.61" r="1.25"/>
<circle cx="453.81" cy="109.07" r="1.25"/>
<circle cx="445.13" cy="109.55" r="1.25"/>
<circle cx="450.71" cy="110.04" r="1.25"/>
<circle cx="457.86" cy="110.56" r="1.25"/>
<circle cx="441.62" cy="111.11" r="1.25"/>
<circle cx="461.23" cy="111.72" r="1.25"/>
<circle cx="447.62" cy="112.40" r="1.25"/>
<circle cx="453.26" cy="113.22" r="1.25"/>
<circle cx="444.10" cy="114.33" r="1.25"/>
</g>
<path d="M440.90,105.43 H461.90" stroke="#b3131b" stroke-width="1.6"/>
<g stroke="#8c8c8c" stroke-width="0.8" fill="none">
<path d="M557.3,14.9 V125.1 H630.9"/>
<path d="M553.6999999999999,125.10 H557.3"/>
<path d="M553.6999999999999,103.06 H557.3"/>
<path d="M553.6999999999999,81.02 H557.3"/>
<path d="M553.6999999999999,58.98 H557.3"/>
<path d="M553.6999999999999,36.94 H557.3"/>
<path d="M553.6999999999999,14.90 H557.3"/>
<path d="M578.6,125.1 V128.5"/>
<path d="M610.6,125.1 V128.5"/>
<path d="M578.6,41.0 V20.4 H610.6 V25.8"/>
</g>
<text x="548.70" y="128.45" font-size="9.5" text-anchor="end" >0</text>
<text x="548.70" y="106.41" font-size="9.5" text-anchor="end" >5</text>
<text x="548.70" y="84.37" font-size="9.5" text-anchor="end" >10</text>
<text x="548.70" y="62.33" font-size="9.5" text-anchor="end" >15</text>
<text x="548.70" y="40.29" font-size="9.5" text-anchor="end" >20</text>
<text x="548.70" y="18.25" font-size="9.5" text-anchor="end" >25</text>
<text x="595.80" y="15.20" font-size="9.5" text-anchor="middle" >ns</text>
<text transform="translate(519.30,70.00) rotate(-90)" font-size="9.4" text-anchor="middle">TNF-α</text>
<text transform="translate(531.30,70.00) rotate(-90)" font-size="9.4" text-anchor="middle">pg/mL</text>
<text x="578.60" y="140.80" font-size="9.5" text-anchor="middle" >SD</text>
<text x="610.60" y="140.80" font-size="9.5" text-anchor="middle" >PDTC</text>
<text x="527.9" y="154.10" font-size="9.5"><tspan font-style="italic">n</tspan><tspan font-size="6.5" dy="2.6">patients</tspan><tspan dy="-2.6">:</tspan></text>
<text x="578.60" y="154.10" font-size="9.5" text-anchor="middle" font-style="italic">38</text>
<text x="610.60" y="154.10" font-size="9.5" text-anchor="middle" font-style="italic">21</text>
<text x="527.9" y="167.80" font-size="9.5"><tspan font-style="italic">n</tspan><tspan font-size="6.5" dy="2.6">samples</tspan><tspan dy="-2.6">:</tspan></text>
<text x="578.60" y="167.80" font-size="9.5" text-anchor="middle" font-style="italic">130</text>
<text x="610.60" y="167.80" font-size="9.5" text-anchor="middle" font-style="italic">36</text>
<g fill="none" stroke="#1c1c1c" stroke-width="0.66">
<circle cx="578.47" cy="48.40" r="1.25"/>
<circle cx="578.66" cy="55.89" r="1.25"/>
<circle cx="580.25" cy="57.22" r="1.25"/>
<circle cx="578.30" cy="58.54" r="1.25"/>
<circle cx="580.01" cy="59.86" r="1.25"/>
<circle cx="578.64" cy="61.18" r="1.25"/>
<circle cx="578.47" cy="66.18" r="1.25"/>
<circle cx="578.53" cy="68.80" r="1.25"/>
<circle cx="579.61" cy="70.37" r="1.25"/>
<circle cx="578.16" cy="71.52" r="1.25"/>
<circle cx="580.08" cy="72.44" r="1.25"/>
<circle cx="576.83" cy="73.22" r="1.25"/>
<circle cx="581.38" cy="73.90" r="1.25"/>
<circle cx="578.80" cy="74.50" r="1.25"/>
<circle cx="576.83" cy="75.04" r="1.25"/>
<circle cx="579.83" cy="75.54" r="1.25"/>
<circle cx="582.15" cy="76.00" r="1.25"/>
<circle cx="578.12" cy="76.43" r="1.25"/>
<circle cx="576.36" cy="76.84" r="1.25"/>
<circle cx="574.07" cy="77.22" r="1.25"/>
<circle cx="579.43" cy="77.59" r="1.25"/>
<circle cx="581.47" cy="77.93" r="1.25"/>
<circle cx="577.65" cy="78.26" r="1.25"/>
<circle cx="575.83" cy="78.58" r="1.25"/>
<circle cx="583.61" cy="78.89" r="1.25"/>
<circle cx="573.41" cy="79.18" r="1.25"/>
<circle cx="579.14" cy="79.47" r="1.25"/>
<circle cx="580.89" cy="79.74" r="1.25"/>
<circle cx="577.28" cy="80.01" r="1.25"/>
<circle cx="585.31" cy="80.27" r="1.25"/>
<circle cx="575.35" cy="80.53" r="1.25"/>
<circle cx="582.89" cy="80.78" r="1.25"/>
<circle cx="572.86" cy="81.02" r="1.25"/>
<circle cx="578.58" cy="81.26" r="1.25"/>
<circle cx="580.42" cy="81.49" r="1.25"/>
<circle cx="570.82" cy="81.72" r="1.25"/>
<circle cx="576.32" cy="81.94" r="1.25"/>
<circle cx="584.13" cy="82.17" r="1.25"/>
<circle cx="574.68" cy="82.38" r="1.25"/>
<circle cx="582.30" cy="82.60" r="1.25"/>
<circle cx="572.89" cy="82.81" r="1.25"/>
<circle cx="579.38" cy="83.01" r="1.25"/>
<circle cx="585.68" cy="83.22" r="1.25"/>
<circle cx="570.32" cy="83.42" r="1.25"/>
<circle cx="587.59" cy="83.62" r="1.25"/>
<circle cx="577.23" cy="83.82" r="1.25"/>
<circle cx="580.87" cy="84.01" r="1.25"/>
<circle cx="575.16" cy="84.20" r="1.25"/>
<circle cx="582.53" cy="84.40" r="1.25"/>
<circle cx="573.07" cy="84.59" r="1.25"/>
<circle cx="584.45" cy="84.77" r="1.25"/>
<circle cx="578.67" cy="84.96" r="1.25"/>
<circle cx="571.29" cy="85.14" r="1.25"/>
<circle cx="586.55" cy="85.33" r="1.25"/>
<circle cx="568.99" cy="85.51" r="1.25"/>
<circle cx="576.57" cy="85.69" r="1.25"/>
<circle cx="580.57" cy="85.87" r="1.25"/>
<circle cx="574.35" cy="86.05" r="1.25"/>
<circle cx="582.56" cy="86.23" r="1.25"/>
<circle cx="572.70" cy="86.41" r="1.25"/>
<circle cx="584.50" cy="86.59" r="1.25"/>
<circle cx="578.87" cy="86.76" r="1.25"/>
<circle cx="570.72" cy="86.94" r="1.25"/>
<circle cx="587.24" cy="87.12" r="1.25"/>
<circle cx="568.57" cy="87.29" r="1.25"/>
<circle cx="576.26" cy="87.47" r="1.25"/>
<circle cx="580.80" cy="87.64" r="1.25"/>
<circle cx="574.12" cy="87.82" r="1.25"/>
<circle cx="583.36" cy="87.99" r="1.25"/>
<circle cx="572.27" cy="88.17" r="1.25"/>
<circle cx="585.02" cy="88.34" r="1.25"/>
<circle cx="578.82" cy="88.51" r="1.25"/>
<circle cx="570.08" cy="88.69" r="1.25"/>
<circle cx="587.76" cy="88.86" r="1.25"/>
<circle cx="577.13" cy="89.04" r="1.25"/>
<circle cx="574.90" cy="89.22" r="1.25"/>
<circle cx="581.85" cy="89.39" r="1.25"/>
<circle cx="568.52" cy="89.57" r="1.25"/>
<circle cx="583.75" cy="89.75" r="1.25"/>
<circle cx="573.28" cy="89.92" r="1.25"/>
<circle cx="585.32" cy="90.10" r="1.25"/>
<circle cx="578.89" cy="90.28" r="1.25"/>
<circle cx="571.24" cy="90.46" r="1.25"/>
<circle cx="587.86" cy="90.65" r="1.25"/>
<circle cx="576.72" cy="90.83" r="1.25"/>
<circle cx="580.87" cy="91.01" r="1.25"/>
<circle cx="574.37" cy="91.20" r="1.25"/>
<circle cx="582.71" cy="91.38" r="1.25"/>
<circle cx="569.42" cy="91.57" r="1.25"/>
<circle cx="584.43" cy="91.76" r="1.25"/>
<circle cx="572.47" cy="91.95" r="1.25"/>
<circle cx="578.77" cy="92.15" r="1.25"/>
<circle cx="586.34" cy="92.34" r="1.25"/>
<circle cx="588.68" cy="92.54" r="1.25"/>
<circle cx="576.73" cy="92.74" r="1.25"/>
<circle cx="580.41" cy="92.94" r="1.25"/>
<circle cx="574.80" cy="93.15" r="1.25"/>
<circle cx="582.80" cy="93.35" r="1.25"/>
<circle cx="584.54" cy="93.56" r="1.25"/>
<circle cx="572.32" cy="93.78" r="1.25"/>
<circle cx="578.48" cy="93.99" r="1.25"/>
<circle cx="586.74" cy="94.21" r="1.25"/>
<circle cx="570.58" cy="94.44" r="1.25"/>
<circle cx="576.55" cy="94.67" r="1.25"/>
<circle cx="580.69" cy="94.90" r="1.25"/>
<circle cx="574.56" cy="95.14" r="1.25"/>
<circle cx="582.32" cy="95.38" r="1.25"/>
<circle cx="584.61" cy="95.63" r="1.25"/>
<circle cx="578.46" cy="95.89" r="1.25"/>
<circle cx="573.35" cy="96.15" r="1.25"/>
<circle cx="576.09" cy="96.42" r="1.25"/>
<circle cx="581.33" cy="96.70" r="1.25"/>
<circle cx="586.23" cy="96.98" r="1.25"/>
<circle cx="583.18" cy="97.28" r="1.25"/>
<circle cx="577.87" cy="97.58" r="1.25"/>
<circle cx="579.55" cy="97.90" r="1.25"/>
<circle cx="575.38" cy="98.24" r="1.25"/>
<circle cx="581.58" cy="98.58" r="1.25"/>
<circle cx="573.47" cy="98.95" r="1.25"/>
<circle cx="578.34" cy="99.33" r="1.25"/>
<circle cx="580.10" cy="99.74" r="1.25"/>
<circle cx="576.21" cy="100.17" r="1.25"/>
<circle cx="582.14" cy="100.63" r="1.25"/>
<circle cx="578.85" cy="101.14" r="1.25"/>
<circle cx="580.88" cy="101.68" r="1.25"/>
<circle cx="576.91" cy="102.29" r="1.25"/>
<circle cx="579.29" cy="102.97" r="1.25"/>
<circle cx="581.07" cy="103.76" r="1.25"/>
<circle cx="577.91" cy="104.69" r="1.25"/>
<circle cx="579.70" cy="105.86" r="1.25"/>
</g>
<path d="M568.10,88.51 H589.10" stroke="#b3131b" stroke-width="1.6"/>
<g fill="none" stroke="#2e2e2e" stroke-width="0.58">
<circle cx="610.75" cy="32.53" r="1.25"/>
<circle cx="610.43" cy="59.74" r="1.25"/>
<circle cx="610.35" cy="63.89" r="1.25"/>
<circle cx="613.02" cy="66.86" r="1.25"/>
<circle cx="609.84" cy="69.20" r="1.25"/>
<circle cx="613.41" cy="71.14" r="1.25"/>
<circle cx="607.61" cy="72.81" r="1.25"/>
<circle cx="616.21" cy="74.30" r="1.25"/>
<circle cx="611.63" cy="75.63" r="1.25"/>
<circle cx="606.96" cy="76.85" r="1.25"/>
<circle cx="618.00" cy="77.98" r="1.25"/>
<circle cx="603.64" cy="79.04" r="1.25"/>
<circle cx="610.31" cy="80.04" r="1.25"/>
<circle cx="614.96" cy="80.98" r="1.25"/>
<circle cx="606.92" cy="81.89" r="1.25"/>
<circle cx="618.82" cy="82.75" r="1.25"/>
<circle cx="602.41" cy="83.59" r="1.25"/>
<circle cx="610.58" cy="84.41" r="1.25"/>
<circle cx="614.88" cy="85.20" r="1.25"/>
<circle cx="606.10" cy="85.98" r="1.25"/>
<circle cx="619.90" cy="86.74" r="1.25"/>
<circle cx="601.85" cy="87.49" r="1.25"/>
<circle cx="612.60" cy="88.24" r="1.25"/>
<circle cx="609.02" cy="88.99" r="1.25"/>
<circle cx="616.82" cy="89.73" r="1.25"/>
<circle cx="604.34" cy="90.48" r="1.25"/>
<circle cx="620.59" cy="91.24" r="1.25"/>
<circle cx="600.91" cy="92.02" r="1.25"/>
<circle cx="610.81" cy="92.81" r="1.25"/>
<circle cx="615.16" cy="93.62" r="1.25"/>
<circle cx="605.86" cy="94.48" r="1.25"/>
<circle cx="618.78" cy="95.38" r="1.25"/>
<circle cx="602.77" cy="96.34" r="1.25"/>
<circle cx="610.60" cy="97.40" r="1.25"/>
<circle cx="615.32" cy="98.59" r="1.25"/>
<circle cx="607.22" cy="100.01" r="1.25"/>
</g>
<path d="M600.10,85.43 H621.10" stroke="#b3131b" stroke-width="1.6"/>
<g stroke="#8c8c8c" stroke-width="0.8" fill="none">
<path d="M83.3,201.0 V311.1 H156.3"/>
<path d="M79.7,311.10 H83.3"/>
<path d="M79.7,283.58 H83.3"/>
<path d="M79.7,256.05 H83.3"/>
<path d="M79.7,228.53 H83.3"/>
<path d="M79.7,201.00 H83.3"/>
<path d="M103.6,311.1 V314.5"/>
<path d="M135.2,311.1 V314.5"/>
<path d="M103.6,223.4 V216.8 H135.2 V241.7"/>
</g>
<text x="74.70" y="314.45" font-size="9.5" text-anchor="end" >0</text>
<text x="74.70" y="286.93" font-size="9.5" text-anchor="end" >2</text>
<text x="74.70" y="259.40" font-size="9.5" text-anchor="end" >4</text>
<text x="74.70" y="231.88" font-size="9.5" text-anchor="end" >6</text>
<text x="74.70" y="204.35" font-size="9.5" text-anchor="end" >8</text>
<text x="120.60" y="212.50" font-size="9.5" text-anchor="middle" >ns</text>
<text transform="translate(49.80,256.05) rotate(-90)" font-size="9.4" text-anchor="middle">IL-1β</text>
<text transform="translate(61.80,256.05) rotate(-90)" font-size="9.4" text-anchor="middle">pg/mL</text>
<text x="103.60" y="326.80" font-size="9.5" text-anchor="middle" >SD</text>
<text x="135.20" y="326.80" font-size="9.5" text-anchor="middle" >PDTC</text>
<text x="50.8" y="340.10" font-size="9.5"><tspan font-style="italic">n</tspan><tspan font-size="6.5" dy="2.6">patients</tspan><tspan dy="-2.6">:</tspan></text>
<text x="103.60" y="340.10" font-size="9.5" text-anchor="middle" font-style="italic">38</text>
<text x="135.20" y="340.10" font-size="9.5" text-anchor="middle" font-style="italic">21</text>
<text x="50.8" y="353.80" font-size="9.5"><tspan font-style="italic">n</tspan><tspan font-size="6.5" dy="2.6">samples</tspan><tspan dy="-2.6">:</tspan></text>
<text x="103.60" y="353.80" font-size="9.5" text-anchor="middle" font-style="italic">131</text>
<text x="135.20" y="353.80" font-size="9.5" text-anchor="middle" font-style="italic">36</text>
<g fill="none" stroke="#1c1c1c" stroke-width="0.66">
<circle cx="103.55" cy="229.90" r="1.25"/>
<circle cx="103.74" cy="248.89" r="1.25"/>
<circle cx="105.82" cy="249.17" r="1.25"/>
<circle cx="103.73" cy="258.80" r="1.25"/>
<circle cx="105.32" cy="259.49" r="1.25"/>
<circle cx="103.52" cy="261.56" r="1.25"/>
<circle cx="103.38" cy="265.00" r="1.25"/>
<circle cx="103.51" cy="267.06" r="1.25"/>
<circle cx="103.67" cy="270.50" r="1.25"/>
<circle cx="103.36" cy="273.25" r="1.25"/>
<circle cx="103.61" cy="275.32" r="1.25"/>
<circle cx="103.78" cy="277.38" r="1.25"/>
<circle cx="103.45" cy="279.45" r="1.25"/>
<circle cx="103.85" cy="281.51" r="1.25"/>
<circle cx="103.77" cy="283.58" r="1.25"/>
<circle cx="105.37" cy="284.95" r="1.25"/>
<circle cx="103.65" cy="286.33" r="1.25"/>
<circle cx="103.81" cy="288.21" r="1.25"/>
<circle cx="105.34" cy="289.00" r="1.25"/>
<circle cx="101.98" cy="289.62" r="1.25"/>
<circle cx="104.02" cy="290.14" r="1.25"/>
<circle cx="106.80" cy="290.59" r="1.25"/>
<circle cx="100.46" cy="290.98" r="1.25"/>
<circle cx="108.39" cy="291.34" r="1.25"/>
<circle cx="102.81" cy="291.67" r="1.25"/>
<circle cx="105.35" cy="291.97" r="1.25"/>
<circle cx="98.96" cy="292.25" r="1.25"/>
<circle cx="106.97" cy="292.51" r="1.25"/>
<circle cx="101.51" cy="292.76" r="1.25"/>
<circle cx="109.63" cy="292.99" r="1.25"/>
<circle cx="97.37" cy="293.21" r="1.25"/>
<circle cx="103.85" cy="293.43" r="1.25"/>
<circle cx="111.77" cy="293.63" r="1.25"/>
<circle cx="105.88" cy="293.83" r="1.25"/>
<circle cx="100.07" cy="294.02" r="1.25"/>
<circle cx="108.33" cy="294.21" r="1.25"/>
<circle cx="95.40" cy="294.39" r="1.25"/>
<circle cx="102.01" cy="294.56" r="1.25"/>
<circle cx="98.24" cy="294.73" r="1.25"/>
<circle cx="110.16" cy="294.89" r="1.25"/>
<circle cx="112.95" cy="295.05" r="1.25"/>
<circle cx="104.30" cy="295.21" r="1.25"/>
<circle cx="106.38" cy="295.36" r="1.25"/>
<circle cx="93.99" cy="295.51" r="1.25"/>
<circle cx="100.31" cy="295.66" r="1.25"/>
<circle cx="96.70" cy="295.81" r="1.25"/>
<circle cx="108.46" cy="295.95" r="1.25"/>
<circle cx="111.76" cy="296.09" r="1.25"/>
<circle cx="102.81" cy="296.23" r="1.25"/>
<circle cx="98.53" cy="296.37" r="1.25"/>
<circle cx="105.15" cy="296.50" r="1.25"/>
<circle cx="113.84" cy="296.63" r="1.25"/>
<circle cx="95.23" cy="296.76" r="1.25"/>
<circle cx="110.06" cy="296.89" r="1.25"/>
<circle cx="106.82" cy="297.02" r="1.25"/>
<circle cx="101.22" cy="297.15" r="1.25"/>
<circle cx="93.73" cy="297.27" r="1.25"/>
<circle cx="96.86" cy="297.40" r="1.25"/>
<circle cx="103.37" cy="297.52" r="1.25"/>
<circle cx="112.20" cy="297.65" r="1.25"/>
<circle cx="108.58" cy="297.77" r="1.25"/>
<circle cx="99.54" cy="297.89" r="1.25"/>
<circle cx="105.74" cy="298.01" r="1.25"/>
<circle cx="95.63" cy="298.13" r="1.25"/>
<circle cx="113.41" cy="298.25" r="1.25"/>
<circle cx="102.06" cy="298.37" r="1.25"/>
<circle cx="110.75" cy="298.48" r="1.25"/>
<circle cx="97.98" cy="298.60" r="1.25"/>
<circle cx="107.11" cy="298.72" r="1.25"/>
<circle cx="93.56" cy="298.84" r="1.25"/>
<circle cx="103.93" cy="298.95" r="1.25"/>
<circle cx="100.57" cy="299.07" r="1.25"/>
<circle cx="112.01" cy="299.19" r="1.25"/>
<circle cx="109.03" cy="299.30" r="1.25"/>
<circle cx="96.74" cy="299.42" r="1.25"/>
<circle cx="105.45" cy="299.54" r="1.25"/>
<circle cx="94.57" cy="299.65" r="1.25"/>
<circle cx="102.54" cy="299.77" r="1.25"/>
<circle cx="99.30" cy="299.88" r="1.25"/>
<circle cx="113.66" cy="300.00" r="1.25"/>
<circle cx="110.70" cy="300.12" r="1.25"/>
<circle cx="107.38" cy="300.24" r="1.25"/>
<circle cx="100.96" cy="300.35" r="1.25"/>
<circle cx="104.12" cy="300.47" r="1.25"/>
<circle cx="97.79" cy="300.59" r="1.25"/>
<circle cx="93.34" cy="300.71" r="1.25"/>
<circle cx="95.56" cy="300.83" r="1.25"/>
<circle cx="112.06" cy="300.95" r="1.25"/>
<circle cx="109.00" cy="301.07" r="1.25"/>
<circle cx="106.23" cy="301.19" r="1.25"/>
<circle cx="99.50" cy="301.32" r="1.25"/>
<circle cx="102.80" cy="301.44" r="1.25"/>
<circle cx="113.78" cy="301.57" r="1.25"/>
<circle cx="110.40" cy="301.69" r="1.25"/>
<circle cx="96.88" cy="301.82" r="1.25"/>
<circle cx="107.49" cy="301.95" r="1.25"/>
<circle cx="104.55" cy="302.08" r="1.25"/>
<circle cx="94.89" cy="302.21" r="1.25"/>
<circle cx="101.27" cy="302.34" r="1.25"/>
<circle cx="112.06" cy="302.48" r="1.25"/>
<circle cx="98.53" cy="302.62" r="1.25"/>
<circle cx="108.98" cy="302.75" r="1.25"/>
<circle cx="106.06" cy="302.90" r="1.25"/>
<circle cx="103.10" cy="303.04" r="1.25"/>
<circle cx="95.81" cy="303.18" r="1.25"/>
<circle cx="113.33" cy="303.33" r="1.25"/>
<circle cx="110.56" cy="303.48" r="1.25"/>
<circle cx="93.33" cy="303.64" r="1.25"/>
<circle cx="100.13" cy="303.80" r="1.25"/>
<circle cx="107.62" cy="303.96" r="1.25"/>
<circle cx="104.87" cy="304.12" r="1.25"/>
<circle cx="97.60" cy="304.30" r="1.25"/>
<circle cx="111.81" cy="304.47" r="1.25"/>
<circle cx="101.88" cy="304.65" r="1.25"/>
<circle cx="95.28" cy="304.84" r="1.25"/>
<circle cx="109.38" cy="305.03" r="1.25"/>
<circle cx="106.04" cy="305.23" r="1.25"/>
<circle cx="99.27" cy="305.44" r="1.25"/>
<circle cx="103.68" cy="305.65" r="1.25"/>
<circle cx="96.61" cy="305.88" r="1.25"/>
<circle cx="110.64" cy="306.12" r="1.25"/>
<circle cx="101.14" cy="306.37" r="1.25"/>
<circle cx="107.65" cy="306.64" r="1.25"/>
<circle cx="105.06" cy="306.92" r="1.25"/>
<circle cx="98.88" cy="307.23" r="1.25"/>
<circle cx="103.18" cy="307.56" r="1.25"/>
<circle cx="109.08" cy="307.93" r="1.25"/>
<circle cx="100.97" cy="308.34" r="1.25"/>
<circle cx="104.35" cy="308.80" r="1.25"/>
<circle cx="102.71" cy="309.35" r="1.25"/>
<circle cx="106.02" cy="310.01" r="1.25"/>
</g>
<path d="M93.10,299.54 H114.10" stroke="#b3131b" stroke-width="1.6"/>
<g fill="none" stroke="#2e2e2e" stroke-width="0.58">
<circle cx="135.08" cy="246.42" r="1.25"/>
<circle cx="138.13" cy="249.86" r="1.25"/>
<circle cx="135.41" cy="262.93" r="1.25"/>
<circle cx="135.42" cy="269.81" r="1.25"/>
<circle cx="135.48" cy="277.38" r="1.25"/>
<circle cx="135.27" cy="287.53" r="1.25"/>
<circle cx="139.03" cy="289.31" r="1.25"/>
<circle cx="132.28" cy="290.63" r="1.25"/>
<circle cx="142.17" cy="291.69" r="1.25"/>
<circle cx="136.24" cy="292.58" r="1.25"/>
<circle cx="128.73" cy="293.36" r="1.25"/>
<circle cx="125.38" cy="294.04" r="1.25"/>
<circle cx="139.56" cy="294.66" r="1.25"/>
<circle cx="132.33" cy="295.23" r="1.25"/>
<circle cx="144.15" cy="295.76" r="1.25"/>
<circle cx="136.32" cy="296.25" r="1.25"/>
<circle cx="128.24" cy="296.71" r="1.25"/>
<circle cx="140.61" cy="297.15" r="1.25"/>
<circle cx="125.06" cy="297.58" r="1.25"/>
<circle cx="132.47" cy="297.98" r="1.25"/>
<circle cx="144.81" cy="298.38" r="1.25"/>
<circle cx="136.72" cy="298.76" r="1.25"/>
<circle cx="128.74" cy="299.14" r="1.25"/>
<circle cx="141.49" cy="299.51" r="1.25"/>
<circle cx="125.53" cy="299.88" r="1.25"/>
<circle cx="133.59" cy="300.25" r="1.25"/>
<circle cx="144.91" cy="300.62" r="1.25"/>
<circle cx="138.13" cy="301.00" r="1.25"/>
<circle cx="129.69" cy="301.38" r="1.25"/>
<circle cx="125.01" cy="301.78" r="1.25"/>
<circle cx="141.35" cy="302.20" r="1.25"/>
<circle cx="134.37" cy="302.65" r="1.25"/>
<circle cx="144.94" cy="303.15" r="1.25"/>
<circle cx="128.85" cy="303.72" r="1.25"/>
<circle cx="137.76" cy="304.43" r="1.25"/>
<circle cx="125.47" cy="305.57" r="1.25"/>
</g>
<path d="M124.70,298.03 H145.70" stroke="#b3131b" stroke-width="1.6"/>
<g stroke="#8c8c8c" stroke-width="0.8" fill="none">
<path d="M249.6,200.5 V311.3 H323.3"/>
<path d="M246.0,311.30 H249.6"/>
<path d="M246.0,283.60 H249.6"/>
<path d="M246.0,255.90 H249.6"/>
<path d="M246.0,228.20 H249.6"/>
<path d="M246.0,200.50 H249.6"/>
<path d="M270.5,311.3 V314.7"/>
<path d="M302.5,311.3 V314.7"/>
<path d="M270.5,255.9 V198.5 H302.5 V204.8"/>
</g>
<text x="241.00" y="314.65" font-size="9.5" text-anchor="end" >0</text>
<text x="241.00" y="286.95" font-size="9.5" text-anchor="end" >500</text>
<text x="241.00" y="259.25" font-size="9.5" text-anchor="end" >1000</text>
<text x="241.00" y="231.55" font-size="9.5" text-anchor="end" >1500</text>
<text x="241.00" y="203.85" font-size="9.5" text-anchor="end" >2000</text>
<text x="287.70" y="194.20" font-size="9.5" text-anchor="middle" >ns</text>
<text transform="translate(199.90,255.90) rotate(-90)" font-size="9.4" text-anchor="middle">MCP1</text>
<text transform="translate(211.90,255.90) rotate(-90)" font-size="9.4" text-anchor="middle">pg/mL</text>
<text x="270.50" y="327.00" font-size="9.5" text-anchor="middle" >SD</text>
<text x="302.50" y="327.00" font-size="9.5" text-anchor="middle" >PDTC</text>
<text x="223.7" y="340.30" font-size="9.5"><tspan font-style="italic">n</tspan><tspan font-size="6.5" dy="2.6">patients</tspan><tspan dy="-2.6">:</tspan></text>
<text x="270.50" y="340.30" font-size="9.5" text-anchor="middle" font-style="italic">38</text>
<text x="302.50" y="340.30" font-size="9.5" text-anchor="middle" font-style="italic">21</text>
<text x="223.7" y="354.00" font-size="9.5"><tspan font-style="italic">n</tspan><tspan font-size="6.5" dy="2.6">samples</tspan><tspan dy="-2.6">:</tspan></text>
<text x="270.50" y="354.00" font-size="9.5" text-anchor="middle" font-style="italic">131</text>
<text x="302.50" y="354.00" font-size="9.5" text-anchor="middle" font-style="italic">36</text>
<g fill="none" stroke="#1c1c1c" stroke-width="0.66">
<circle cx="270.31" cy="264.21" r="1.25"/>
<circle cx="272.25" cy="265.32" r="1.25"/>
<circle cx="270.75" cy="271.41" r="1.25"/>
<circle cx="271.93" cy="272.52" r="1.25"/>
<circle cx="270.59" cy="273.63" r="1.25"/>
<circle cx="270.23" cy="278.57" r="1.25"/>
<circle cx="270.51" cy="280.86" r="1.25"/>
<circle cx="272.22" cy="282.12" r="1.25"/>
<circle cx="269.70" cy="283.03" r="1.25"/>
<circle cx="273.24" cy="283.74" r="1.25"/>
<circle cx="268.68" cy="284.34" r="1.25"/>
<circle cx="270.74" cy="284.86" r="1.25"/>
<circle cx="274.26" cy="285.32" r="1.25"/>
<circle cx="266.94" cy="285.73" r="1.25"/>
<circle cx="271.91" cy="286.11" r="1.25"/>
<circle cx="269.25" cy="286.46" r="1.25"/>
<circle cx="275.58" cy="286.79" r="1.25"/>
<circle cx="265.66" cy="287.09" r="1.25"/>
<circle cx="273.25" cy="287.38" r="1.25"/>
<circle cx="270.93" cy="287.65" r="1.25"/>
<circle cx="268.12" cy="287.91" r="1.25"/>
<circle cx="276.74" cy="288.16" r="1.25"/>
<circle cx="264.19" cy="288.40" r="1.25"/>
<circle cx="274.72" cy="288.63" r="1.25"/>
<circle cx="265.73" cy="288.85" r="1.25"/>
<circle cx="269.50" cy="289.06" r="1.25"/>
<circle cx="272.19" cy="289.27" r="1.25"/>
<circle cx="278.74" cy="289.47" r="1.25"/>
<circle cx="262.44" cy="289.66" r="1.25"/>
<circle cx="267.55" cy="289.85" r="1.25"/>
<circle cx="276.34" cy="290.04" r="1.25"/>
<circle cx="274.27" cy="290.22" r="1.25"/>
<circle cx="265.10" cy="290.40" r="1.25"/>
<circle cx="270.58" cy="290.57" r="1.25"/>
<circle cx="280.27" cy="290.74" r="1.25"/>
<circle cx="260.81" cy="290.90" r="1.25"/>
<circle cx="272.77" cy="291.07" r="1.25"/>
<circle cx="277.86" cy="291.23" r="1.25"/>
<circle cx="268.31" cy="291.39" r="1.25"/>
<circle cx="266.52" cy="291.54" r="1.25"/>
<circle cx="275.42" cy="291.69" r="1.25"/>
<circle cx="263.30" cy="291.85" r="1.25"/>
<circle cx="271.05" cy="291.99" r="1.25"/>
<circle cx="273.94" cy="292.14" r="1.25"/>
<circle cx="279.78" cy="292.29" r="1.25"/>
<circle cx="262.25" cy="292.43" r="1.25"/>
<circle cx="265.14" cy="292.57" r="1.25"/>
<circle cx="277.27" cy="292.71" r="1.25"/>
<circle cx="269.35" cy="292.85" r="1.25"/>
<circle cx="267.62" cy="292.99" r="1.25"/>
<circle cx="272.47" cy="293.13" r="1.25"/>
<circle cx="260.66" cy="293.26" r="1.25"/>
<circle cx="274.98" cy="293.40" r="1.25"/>
<circle cx="263.62" cy="293.53" r="1.25"/>
<circle cx="280.74" cy="293.66" r="1.25"/>
<circle cx="278.51" cy="293.80" r="1.25"/>
<circle cx="271.23" cy="293.93" r="1.25"/>
<circle cx="265.94" cy="294.06" r="1.25"/>
<circle cx="262.29" cy="294.19" r="1.25"/>
<circle cx="276.68" cy="294.32" r="1.25"/>
<circle cx="268.21" cy="294.45" r="1.25"/>
<circle cx="273.40" cy="294.57" r="1.25"/>
<circle cx="264.29" cy="294.70" r="1.25"/>
<circle cx="260.21" cy="294.83" r="1.25"/>
<circle cx="279.93" cy="294.96" r="1.25"/>
<circle cx="270.12" cy="295.08" r="1.25"/>
<circle cx="274.86" cy="295.21" r="1.25"/>
<circle cx="278.10" cy="295.34" r="1.25"/>
<circle cx="271.87" cy="295.46" r="1.25"/>
<circle cx="266.82" cy="295.59" r="1.25"/>
<circle cx="262.90" cy="295.71" r="1.25"/>
<circle cx="264.71" cy="295.84" r="1.25"/>
<circle cx="276.31" cy="295.96" r="1.25"/>
<circle cx="268.22" cy="296.09" r="1.25"/>
<circle cx="273.66" cy="296.22" r="1.25"/>
<circle cx="261.68" cy="296.34" r="1.25"/>
<circle cx="279.37" cy="296.47" r="1.25"/>
<circle cx="270.77" cy="296.60" r="1.25"/>
<circle cx="266.29" cy="296.72" r="1.25"/>
<circle cx="274.99" cy="296.85" r="1.25"/>
<circle cx="277.75" cy="296.98" r="1.25"/>
<circle cx="264.08" cy="297.11" r="1.25"/>
<circle cx="271.80" cy="297.23" r="1.25"/>
<circle cx="260.65" cy="297.36" r="1.25"/>
<circle cx="268.99" cy="297.49" r="1.25"/>
<circle cx="280.68" cy="297.62" r="1.25"/>
<circle cx="276.22" cy="297.75" r="1.25"/>
<circle cx="262.27" cy="297.89" r="1.25"/>
<circle cx="273.33" cy="298.02" r="1.25"/>
<circle cx="265.58" cy="298.15" r="1.25"/>
<circle cx="267.30" cy="298.29" r="1.25"/>
<circle cx="270.22" cy="298.42" r="1.25"/>
<circle cx="278.75" cy="298.56" r="1.25"/>
<circle cx="275.23" cy="298.70" r="1.25"/>
<circle cx="263.98" cy="298.84" r="1.25"/>
<circle cx="260.94" cy="298.98" r="1.25"/>
<circle cx="272.06" cy="299.12" r="1.25"/>
<circle cx="269.18" cy="299.26" r="1.25"/>
<circle cx="276.77" cy="299.41" r="1.25"/>
<circle cx="280.70" cy="299.55" r="1.25"/>
<circle cx="266.47" cy="299.70" r="1.25"/>
<circle cx="262.35" cy="299.85" r="1.25"/>
<circle cx="273.47" cy="300.00" r="1.25"/>
<circle cx="270.66" cy="300.16" r="1.25"/>
<circle cx="278.25" cy="300.32" r="1.25"/>
<circle cx="275.29" cy="300.48" r="1.25"/>
<circle cx="264.20" cy="300.64" r="1.25"/>
<circle cx="267.86" cy="300.81" r="1.25"/>
<circle cx="260.82" cy="300.97" r="1.25"/>
<circle cx="272.26" cy="301.15" r="1.25"/>
<circle cx="280.03" cy="301.32" r="1.25"/>
<circle cx="277.22" cy="301.50" r="1.25"/>
<circle cx="265.76" cy="301.69" r="1.25"/>
<circle cx="269.76" cy="301.88" r="1.25"/>
<circle cx="273.82" cy="302.07" r="1.25"/>
<circle cx="263.70" cy="302.27" r="1.25"/>
<circle cx="278.48" cy="302.47" r="1.25"/>
<circle cx="267.32" cy="302.69" r="1.25"/>
<circle cx="270.92" cy="302.91" r="1.25"/>
<circle cx="275.58" cy="303.13" r="1.25"/>
<circle cx="264.95" cy="303.37" r="1.25"/>
<circle cx="273.10" cy="303.62" r="1.25"/>
<circle cx="269.10" cy="303.87" r="1.25"/>
<circle cx="277.03" cy="304.14" r="1.25"/>
<circle cx="266.82" cy="304.43" r="1.25"/>
<circle cx="271.07" cy="304.73" r="1.25"/>
<circle cx="274.30" cy="305.05" r="1.25"/>
<circle cx="264.97" cy="305.40" r="1.25"/>
<circle cx="269.50" cy="305.77" r="1.25"/>
<circle cx="272.23" cy="306.17" r="1.25"/>
<circle cx="267.31" cy="306.62" r="1.25"/>
</g>
<path d="M260.00,296.29 H281.00" stroke="#b3131b" stroke-width="1.6"/>
<g fill="none" stroke="#2e2e2e" stroke-width="0.58">
<circle cx="302.23" cy="211.58" r="1.25"/>
<circle cx="302.72" cy="234.85" r="1.25"/>
<circle cx="302.66" cy="247.59" r="1.25"/>
<circle cx="302.32" cy="268.19" r="1.25"/>
<circle cx="304.29" cy="272.04" r="1.25"/>
<circle cx="301.53" cy="275.15" r="1.25"/>
<circle cx="305.34" cy="277.75" r="1.25"/>
<circle cx="301.61" cy="279.98" r="1.25"/>
<circle cx="305.09" cy="281.93" r="1.25"/>
<circle cx="299.78" cy="283.66" r="1.25"/>
<circle cx="307.89" cy="285.22" r="1.25"/>
<circle cx="302.25" cy="286.64" r="1.25"/>
<circle cx="298.02" cy="287.93" r="1.25"/>
<circle cx="305.94" cy="289.13" r="1.25"/>
<circle cx="310.77" cy="290.25" r="1.25"/>
<circle cx="302.53" cy="291.29" r="1.25"/>
<circle cx="298.23" cy="292.27" r="1.25"/>
<circle cx="305.87" cy="293.19" r="1.25"/>
<circle cx="294.31" cy="294.07" r="1.25"/>
<circle cx="310.40" cy="294.91" r="1.25"/>
<circle cx="302.78" cy="295.72" r="1.25"/>
<circle cx="297.81" cy="296.49" r="1.25"/>
<circle cx="306.98" cy="297.23" r="1.25"/>
<circle cx="292.89" cy="297.96" r="1.25"/>
<circle cx="312.12" cy="298.66" r="1.25"/>
<circle cx="300.53" cy="299.35" r="1.25"/>
<circle cx="296.15" cy="300.03" r="1.25"/>
<circle cx="305.23" cy="300.70" r="1.25"/>
<circle cx="309.84" cy="301.37" r="1.25"/>
<circle cx="292.64" cy="302.03" r="1.25"/>
<circle cx="298.93" cy="302.71" r="1.25"/>
<circle cx="302.53" cy="303.40" r="1.25"/>
<circle cx="312.67" cy="304.12" r="1.25"/>
<circle cx="306.92" cy="304.89" r="1.25"/>
<circle cx="296.49" cy="305.74" r="1.25"/>
<circle cx="300.43" cy="306.76" r="1.25"/>
</g>
<path d="M292.00,293.18 H313.00" stroke="#b3131b" stroke-width="1.6"/>
<g stroke="#8c8c8c" stroke-width="0.8" fill="none">
<path d="M401.6,201.6 V310.8 H474.6"/>
<path d="M398.0,310.80 H401.6"/>
<path d="M398.0,283.50 H401.6"/>
<path d="M398.0,256.20 H401.6"/>
<path d="M398.0,228.90 H401.6"/>
<path d="M398.0,201.60 H401.6"/>
<path d="M422.3,310.8 V314.2"/>
<path d="M453.6,310.8 V314.2"/>
<path d="M422.3,208.5 V201.6 H453.6 V265.6"/>
</g>
<text x="393.00" y="314.15" font-size="9.5" text-anchor="end" >0</text>
<text x="393.00" y="286.85" font-size="9.5" text-anchor="end" >1</text>
<text x="393.00" y="259.55" font-size="9.5" text-anchor="end" >2</text>
<text x="393.00" y="232.25" font-size="9.5" text-anchor="end" >3</text>
<text x="393.00" y="204.95" font-size="9.5" text-anchor="end" >4</text>
<text x="439.15" y="197.30" font-size="9.5" text-anchor="middle" >ns</text>
<text transform="translate(367.40,256.20) rotate(-90)" font-size="9.4" text-anchor="middle">IL-12p70</text>
<text transform="translate(379.40,256.20) rotate(-90)" font-size="9.4" text-anchor="middle">pg/mL</text>
<text x="422.30" y="326.50" font-size="9.5" text-anchor="middle" >SD</text>
<text x="453.60" y="326.50" font-size="9.5" text-anchor="middle" >PDTC</text>
<text x="363.1" y="339.80" font-size="9.5"><tspan font-style="italic">n</tspan><tspan font-size="6.5" dy="2.6">patients</tspan><tspan dy="-2.6">:</tspan></text>
<text x="422.30" y="339.80" font-size="9.5" text-anchor="middle" font-style="italic">38</text>
<text x="453.60" y="339.80" font-size="9.5" text-anchor="middle" font-style="italic">21</text>
<text x="363.1" y="353.50" font-size="9.5"><tspan font-style="italic">n</tspan><tspan font-size="6.5" dy="2.6">samples</tspan><tspan dy="-2.6">:</tspan></text>
<text x="422.30" y="353.50" font-size="9.5" text-anchor="middle" font-style="italic">130</text>
<text x="453.60" y="353.50" font-size="9.5" text-anchor="middle" font-style="italic">36</text>
<g fill="none" stroke="#1c1c1c" stroke-width="0.66">
<circle cx="422.35" cy="215.25" r="1.25"/>
<circle cx="422.35" cy="231.63" r="1.25"/>
<circle cx="423.76" cy="233.00" r="1.25"/>
<circle cx="422.24" cy="239.82" r="1.25"/>
<circle cx="422.59" cy="243.91" r="1.25"/>
<circle cx="422.43" cy="253.47" r="1.25"/>
<circle cx="422.26" cy="256.20" r="1.25"/>
<circle cx="422.53" cy="258.93" r="1.25"/>
<circle cx="422.48" cy="263.02" r="1.25"/>
<circle cx="422.26" cy="265.75" r="1.25"/>
<circle cx="422.15" cy="268.49" r="1.25"/>
<circle cx="422.07" cy="271.22" r="1.25"/>
<circle cx="422.08" cy="273.94" r="1.25"/>
<circle cx="423.59" cy="275.31" r="1.25"/>
<circle cx="422.28" cy="278.04" r="1.25"/>
<circle cx="422.27" cy="280.47" r="1.25"/>
<circle cx="423.99" cy="281.89" r="1.25"/>
<circle cx="421.63" cy="282.88" r="1.25"/>
<circle cx="424.28" cy="283.66" r="1.25"/>
<circle cx="420.26" cy="284.30" r="1.25"/>
<circle cx="422.54" cy="284.86" r="1.25"/>
<circle cx="425.50" cy="285.35" r="1.25"/>
<circle cx="418.78" cy="285.80" r="1.25"/>
<circle cx="421.07" cy="286.20" r="1.25"/>
<circle cx="423.35" cy="286.57" r="1.25"/>
<circle cx="426.38" cy="286.92" r="1.25"/>
<circle cx="417.48" cy="287.25" r="1.25"/>
<circle cx="419.32" cy="287.56" r="1.25"/>
<circle cx="421.89" cy="287.85" r="1.25"/>
<circle cx="424.12" cy="288.13" r="1.25"/>
<circle cx="427.54" cy="288.39" r="1.25"/>
<circle cx="415.69" cy="288.65" r="1.25"/>
<circle cx="430.09" cy="288.89" r="1.25"/>
<circle cx="420.42" cy="289.13" r="1.25"/>
<circle cx="422.92" cy="289.36" r="1.25"/>
<circle cx="425.90" cy="289.58" r="1.25"/>
<circle cx="418.49" cy="289.80" r="1.25"/>
<circle cx="414.31" cy="290.01" r="1.25"/>
<circle cx="427.65" cy="290.21" r="1.25"/>
<circle cx="416.42" cy="290.41" r="1.25"/>
<circle cx="424.52" cy="290.61" r="1.25"/>
<circle cx="421.01" cy="290.80" r="1.25"/>
<circle cx="429.95" cy="290.98" r="1.25"/>
<circle cx="431.62" cy="291.17" r="1.25"/>
<circle cx="419.33" cy="291.35" r="1.25"/>
<circle cx="426.36" cy="291.53" r="1.25"/>
<circle cx="413.38" cy="291.70" r="1.25"/>
<circle cx="423.06" cy="291.87" r="1.25"/>
<circle cx="417.29" cy="292.04" r="1.25"/>
<circle cx="428.59" cy="292.21" r="1.25"/>
<circle cx="415.20" cy="292.37" r="1.25"/>
<circle cx="420.75" cy="292.54" r="1.25"/>
<circle cx="424.96" cy="292.70" r="1.25"/>
<circle cx="430.32" cy="292.86" r="1.25"/>
<circle cx="432.01" cy="293.01" r="1.25"/>
<circle cx="419.02" cy="293.17" r="1.25"/>
<circle cx="426.53" cy="293.33" r="1.25"/>
<circle cx="413.53" cy="293.48" r="1.25"/>
<circle cx="422.16" cy="293.63" r="1.25"/>
<circle cx="416.54" cy="293.78" r="1.25"/>
<circle cx="428.51" cy="293.94" r="1.25"/>
<circle cx="412.21" cy="294.08" r="1.25"/>
<circle cx="420.00" cy="294.23" r="1.25"/>
<circle cx="424.33" cy="294.38" r="1.25"/>
<circle cx="431.10" cy="294.53" r="1.25"/>
<circle cx="415.51" cy="294.68" r="1.25"/>
<circle cx="418.09" cy="294.82" r="1.25"/>
<circle cx="426.02" cy="294.97" r="1.25"/>
<circle cx="421.98" cy="295.11" r="1.25"/>
<circle cx="413.86" cy="295.26" r="1.25"/>
<circle cx="430.08" cy="295.40" r="1.25"/>
<circle cx="427.53" cy="295.55" r="1.25"/>
<circle cx="417.08" cy="295.69" r="1.25"/>
<circle cx="419.66" cy="295.84" r="1.25"/>
<circle cx="432.39" cy="295.98" r="1.25"/>
<circle cx="423.53" cy="296.13" r="1.25"/>
<circle cx="412.50" cy="296.27" r="1.25"/>
<circle cx="425.27" cy="296.42" r="1.25"/>
<circle cx="415.25" cy="296.56" r="1.25"/>
<circle cx="418.23" cy="296.71" r="1.25"/>
<circle cx="421.26" cy="296.86" r="1.25"/>
<circle cx="430.82" cy="297.00" r="1.25"/>
<circle cx="428.57" cy="297.15" r="1.25"/>
<circle cx="426.57" cy="297.30" r="1.25"/>
<circle cx="413.51" cy="297.45" r="1.25"/>
<circle cx="417.06" cy="297.60" r="1.25"/>
<circle cx="419.76" cy="297.75" r="1.25"/>
<circle cx="423.07" cy="297.90" r="1.25"/>
<circle cx="432.40" cy="298.05" r="1.25"/>
<circle cx="424.81" cy="298.21" r="1.25"/>
<circle cx="412.56" cy="298.36" r="1.25"/>
<circle cx="415.59" cy="298.52" r="1.25"/>
<circle cx="429.97" cy="298.67" r="1.25"/>
<circle cx="418.17" cy="298.83" r="1.25"/>
<circle cx="421.06" cy="298.99" r="1.25"/>
<circle cx="426.77" cy="299.16" r="1.25"/>
<circle cx="413.96" cy="299.32" r="1.25"/>
<circle cx="423.04" cy="299.49" r="1.25"/>
<circle cx="431.29" cy="299.66" r="1.25"/>
<circle cx="416.74" cy="299.83" r="1.25"/>
<circle cx="419.62" cy="300.00" r="1.25"/>
<circle cx="425.43" cy="300.18" r="1.25"/>
<circle cx="428.57" cy="300.36" r="1.25"/>
<circle cx="412.51" cy="300.54" r="1.25"/>
<circle cx="421.90" cy="300.73" r="1.25"/>
<circle cx="415.41" cy="300.92" r="1.25"/>
<circle cx="418.20" cy="301.11" r="1.25"/>
<circle cx="423.98" cy="301.31" r="1.25"/>
<circle cx="426.88" cy="301.51" r="1.25"/>
<circle cx="429.99" cy="301.72" r="1.25"/>
<circle cx="420.36" cy="301.94" r="1.25"/>
<circle cx="416.77" cy="302.16" r="1.25"/>
<circle cx="413.55" cy="302.38" r="1.25"/>
<circle cx="422.46" cy="302.62" r="1.25"/>
<circle cx="424.90" cy="302.86" r="1.25"/>
<circle cx="418.83" cy="303.11" r="1.25"/>
<circle cx="427.01" cy="303.38" r="1.25"/>
<circle cx="428.84" cy="303.65" r="1.25"/>
<circle cx="420.94" cy="303.94" r="1.25"/>
<circle cx="423.03" cy="304.24" r="1.25"/>
<circle cx="417.31" cy="304.56" r="1.25"/>
<circle cx="425.11" cy="304.91" r="1.25"/>
<circle cx="419.47" cy="305.27" r="1.25"/>
<circle cx="422.07" cy="305.67" r="1.25"/>
<circle cx="423.97" cy="306.10" r="1.25"/>
<circle cx="426.52" cy="306.58" r="1.25"/>
<circle cx="420.54" cy="307.12" r="1.25"/>
<circle cx="422.28" cy="307.74" r="1.25"/>
<circle cx="424.08" cy="308.48" r="1.25"/>
<circle cx="421.48" cy="309.40" r="1.25"/>
</g>
<path d="M411.80,296.19 H432.80" stroke="#b3131b" stroke-width="1.6"/>
<g fill="none" stroke="#2e2e2e" stroke-width="0.58">
<circle cx="453.31" cy="274.70" r="1.25"/>
<circle cx="456.00" cy="277.93" r="1.25"/>
<circle cx="452.83" cy="280.35" r="1.25"/>
<circle cx="456.54" cy="282.29" r="1.25"/>
<circle cx="450.21" cy="283.92" r="1.25"/>
<circle cx="458.93" cy="285.31" r="1.25"/>
<circle cx="453.76" cy="286.54" r="1.25"/>
<circle cx="448.07" cy="287.63" r="1.25"/>
<circle cx="461.48" cy="288.62" r="1.25"/>
<circle cx="456.47" cy="289.53" r="1.25"/>
<circle cx="451.61" cy="290.37" r="1.25"/>
<circle cx="445.31" cy="291.15" r="1.25"/>
<circle cx="460.16" cy="291.89" r="1.25"/>
<circle cx="463.35" cy="292.58" r="1.25"/>
<circle cx="454.65" cy="293.24" r="1.25"/>
<circle cx="449.34" cy="293.86" r="1.25"/>
<circle cx="443.85" cy="294.46" r="1.25"/>
<circle cx="458.14" cy="295.04" r="1.25"/>
<circle cx="461.95" cy="295.60" r="1.25"/>
<circle cx="451.82" cy="296.15" r="1.25"/>
<circle cx="446.12" cy="296.68" r="1.25"/>
<circle cx="455.67" cy="297.20" r="1.25"/>
<circle cx="463.54" cy="297.71" r="1.25"/>
<circle cx="443.93" cy="298.21" r="1.25"/>
<circle cx="458.85" cy="298.71" r="1.25"/>
<circle cx="448.95" cy="299.21" r="1.25"/>
<circle cx="453.79" cy="299.71" r="1.25"/>
<circle cx="462.40" cy="300.22" r="1.25"/>
<circle cx="445.70" cy="300.74" r="1.25"/>
<circle cx="457.47" cy="301.27" r="1.25"/>
<circle cx="450.24" cy="301.82" r="1.25"/>
<circle cx="460.84" cy="302.41" r="1.25"/>
<circle cx="453.69" cy="303.05" r="1.25"/>
<circle cx="443.56" cy="303.78" r="1.25"/>
<circle cx="447.01" cy="304.68" r="1.25"/>
<circle cx="456.46" cy="306.06" r="1.25"/>
</g>
<path d="M443.10,294.69 H464.10" stroke="#b3131b" stroke-width="1.6"/>
<g stroke="#8c8c8c" stroke-width="0.8" fill="none">
<path d="M557.7,201.6 V310.8 H630.9"/>
<path d="M554.1,310.80 H557.7"/>
<path d="M554.1,283.50 H557.7"/>
<path d="M554.1,256.20 H557.7"/>
<path d="M554.1,228.90 H557.7"/>
<path d="M554.1,201.60 H557.7"/>
<path d="M578.5,310.8 V314.2"/>
<path d="M610.4,310.8 V314.2"/>
<path d="M578.5,234.6 V204.6 H610.4 V210.7"/>
</g>
<text x="549.10" y="314.15" font-size="9.5" text-anchor="end" >0</text>
<text x="549.10" y="286.85" font-size="9.5" text-anchor="end" >5</text>
<text x="549.10" y="259.55" font-size="9.5" text-anchor="end" >10</text>
<text x="549.10" y="232.25" font-size="9.5" text-anchor="end" >15</text>
<text x="549.10" y="204.95" font-size="9.5" text-anchor="end" >20</text>
<text x="595.65" y="201.00" font-size="8.6" text-anchor="middle" >ns</text>
<text transform="translate(517.60,256.20) rotate(-90)" font-size="9.4" text-anchor="middle">IFN-γ</text>
<text transform="translate(529.60,256.20) rotate(-90)" font-size="9.4" text-anchor="middle">pg/mL</text>
<text x="578.50" y="326.50" font-size="9.5" text-anchor="middle" >SD</text>
<text x="610.40" y="326.50" font-size="9.5" text-anchor="middle" >PDTC</text>
<text x="525.2" y="339.80" font-size="9.5"><tspan font-style="italic">n</tspan><tspan font-size="6.5" dy="2.6">patients</tspan><tspan dy="-2.6">:</tspan></text>
<text x="578.50" y="339.80" font-size="9.5" text-anchor="middle" font-style="italic">38</text>
<text x="610.40" y="339.80" font-size="9.5" text-anchor="middle" font-style="italic">21</text>
<text x="525.2" y="353.50" font-size="9.5"><tspan font-style="italic">n</tspan><tspan font-size="6.5" dy="2.6">samples</tspan><tspan dy="-2.6">:</tspan></text>
<text x="578.50" y="353.50" font-size="9.5" text-anchor="middle" font-style="italic">128</text>
<text x="610.40" y="353.50" font-size="9.5" text-anchor="middle" font-style="italic">36</text>
<g fill="none" stroke="#1c1c1c" stroke-width="0.66">
<circle cx="578.47" cy="240.91" r="1.25"/>
<circle cx="580.24" cy="241.46" r="1.25"/>
<circle cx="577.39" cy="242.55" r="1.25"/>
<circle cx="578.29" cy="250.19" r="1.25"/>
<circle cx="580.27" cy="250.74" r="1.25"/>
<circle cx="578.73" cy="255.65" r="1.25"/>
<circle cx="578.56" cy="257.84" r="1.25"/>
<circle cx="578.76" cy="265.48" r="1.25"/>
<circle cx="578.27" cy="273.13" r="1.25"/>
<circle cx="579.54" cy="274.76" r="1.25"/>
<circle cx="578.41" cy="276.40" r="1.25"/>
<circle cx="579.23" cy="278.04" r="1.25"/>
<circle cx="578.28" cy="279.13" r="1.25"/>
<circle cx="579.23" cy="280.22" r="1.25"/>
<circle cx="578.15" cy="281.32" r="1.25"/>
<circle cx="579.50" cy="282.41" r="1.25"/>
<circle cx="578.43" cy="284.21" r="1.25"/>
<circle cx="580.11" cy="285.21" r="1.25"/>
<circle cx="577.23" cy="285.93" r="1.25"/>
<circle cx="581.70" cy="286.50" r="1.25"/>
<circle cx="579.12" cy="286.97" r="1.25"/>
<circle cx="576.19" cy="287.39" r="1.25"/>
<circle cx="582.93" cy="287.76" r="1.25"/>
<circle cx="580.70" cy="288.09" r="1.25"/>
<circle cx="577.50" cy="288.40" r="1.25"/>
<circle cx="574.35" cy="288.68" r="1.25"/>
<circle cx="584.22" cy="288.94" r="1.25"/>
<circle cx="572.64" cy="289.19" r="1.25"/>
<circle cx="579.22" cy="289.42" r="1.25"/>
<circle cx="581.45" cy="289.65" r="1.25"/>
<circle cx="575.72" cy="289.86" r="1.25"/>
<circle cx="586.03" cy="290.06" r="1.25"/>
<circle cx="571.20" cy="290.26" r="1.25"/>
<circle cx="573.83" cy="290.44" r="1.25"/>
<circle cx="583.33" cy="290.63" r="1.25"/>
<circle cx="587.84" cy="290.80" r="1.25"/>
<circle cx="578.07" cy="290.97" r="1.25"/>
<circle cx="579.95" cy="291.14" r="1.25"/>
<circle cx="569.69" cy="291.30" r="1.25"/>
<circle cx="572.27" cy="291.45" r="1.25"/>
<circle cx="575.32" cy="291.61" r="1.25"/>
<circle cx="582.06" cy="291.76" r="1.25"/>
<circle cx="585.25" cy="291.91" r="1.25"/>
<circle cx="586.88" cy="292.05" r="1.25"/>
<circle cx="570.75" cy="292.19" r="1.25"/>
<circle cx="573.86" cy="292.33" r="1.25"/>
<circle cx="577.20" cy="292.47" r="1.25"/>
<circle cx="579.13" cy="292.60" r="1.25"/>
<circle cx="568.63" cy="292.74" r="1.25"/>
<circle cx="583.23" cy="292.87" r="1.25"/>
<circle cx="588.20" cy="293.00" r="1.25"/>
<circle cx="580.81" cy="293.12" r="1.25"/>
<circle cx="572.68" cy="293.25" r="1.25"/>
<circle cx="575.39" cy="293.38" r="1.25"/>
<circle cx="585.76" cy="293.50" r="1.25"/>
<circle cx="570.27" cy="293.62" r="1.25"/>
<circle cx="577.43" cy="293.74" r="1.25"/>
<circle cx="582.64" cy="293.87" r="1.25"/>
<circle cx="579.72" cy="293.99" r="1.25"/>
<circle cx="573.77" cy="294.10" r="1.25"/>
<circle cx="584.29" cy="294.22" r="1.25"/>
<circle cx="587.58" cy="294.34" r="1.25"/>
<circle cx="568.78" cy="294.46" r="1.25"/>
<circle cx="571.39" cy="294.57" r="1.25"/>
<circle cx="576.14" cy="294.69" r="1.25"/>
<circle cx="580.89" cy="294.81" r="1.25"/>
<circle cx="577.88" cy="294.92" r="1.25"/>
<circle cx="586.21" cy="295.04" r="1.25"/>
<circle cx="583.16" cy="295.15" r="1.25"/>
<circle cx="570.04" cy="295.27" r="1.25"/>
<circle cx="573.03" cy="295.38" r="1.25"/>
<circle cx="588.28" cy="295.49" r="1.25"/>
<circle cx="579.64" cy="295.61" r="1.25"/>
<circle cx="575.22" cy="295.72" r="1.25"/>
<circle cx="584.24" cy="295.84" r="1.25"/>
<circle cx="568.70" cy="295.95" r="1.25"/>
<circle cx="577.04" cy="296.07" r="1.25"/>
<circle cx="571.69" cy="296.18" r="1.25"/>
<circle cx="581.40" cy="296.30" r="1.25"/>
<circle cx="587.03" cy="296.41" r="1.25"/>
<circle cx="573.56" cy="296.53" r="1.25"/>
<circle cx="578.50" cy="296.65" r="1.25"/>
<circle cx="583.15" cy="296.76" r="1.25"/>
<circle cx="569.92" cy="296.88" r="1.25"/>
<circle cx="585.62" cy="297.00" r="1.25"/>
<circle cx="588.52" cy="297.12" r="1.25"/>
<circle cx="575.80" cy="297.24" r="1.25"/>
<circle cx="579.77" cy="297.36" r="1.25"/>
<circle cx="572.06" cy="297.49" r="1.25"/>
<circle cx="568.71" cy="297.61" r="1.25"/>
<circle cx="577.11" cy="297.73" r="1.25"/>
<circle cx="583.75" cy="297.86" r="1.25"/>
<circle cx="581.78" cy="297.99" r="1.25"/>
<circle cx="587.19" cy="298.12" r="1.25"/>
<circle cx="574.21" cy="298.25" r="1.25"/>
<circle cx="578.59" cy="298.38" r="1.25"/>
<circle cx="570.34" cy="298.51" r="1.25"/>
<circle cx="585.61" cy="298.65" r="1.25"/>
<circle cx="588.20" cy="298.79" r="1.25"/>
<circle cx="580.30" cy="298.93" r="1.25"/>
<circle cx="575.22" cy="299.07" r="1.25"/>
<circle cx="572.70" cy="299.22" r="1.25"/>
<circle cx="568.31" cy="299.37" r="1.25"/>
<circle cx="582.73" cy="299.52" r="1.25"/>
<circle cx="577.39" cy="299.68" r="1.25"/>
<circle cx="586.98" cy="299.84" r="1.25"/>
<circle cx="573.92" cy="300.00" r="1.25"/>
<circle cx="570.97" cy="300.17" r="1.25"/>
<circle cx="584.83" cy="300.34" r="1.25"/>
<circle cx="579.63" cy="300.52" r="1.25"/>
<circle cx="581.67" cy="300.71" r="1.25"/>
<circle cx="576.06" cy="300.90" r="1.25"/>
<circle cx="569.08" cy="301.10" r="1.25"/>
<circle cx="572.39" cy="301.31" r="1.25"/>
<circle cx="577.95" cy="301.53" r="1.25"/>
<circle cx="583.07" cy="301.76" r="1.25"/>
<circle cx="574.60" cy="302.00" r="1.25"/>
<circle cx="579.91" cy="302.26" r="1.25"/>
<circle cx="584.93" cy="302.54" r="1.25"/>
<circle cx="576.22" cy="302.83" r="1.25"/>
<circle cx="572.76" cy="303.16" r="1.25"/>
<circle cx="578.56" cy="303.51" r="1.25"/>
<circle cx="580.88" cy="303.91" r="1.25"/>
<circle cx="575.79" cy="304.37" r="1.25"/>
<circle cx="583.26" cy="304.91" r="1.25"/>
<circle cx="578.23" cy="305.57" r="1.25"/>
<circle cx="580.78" cy="306.45" r="1.25"/>
<circle cx="578.65" cy="307.86" r="1.25"/>
</g>
<path d="M568.00,295.68 H589.00" stroke="#b3131b" stroke-width="1.6"/>
<g fill="none" stroke="#2e2e2e" stroke-width="0.58">
<circle cx="610.47" cy="217.98" r="1.25"/>
<circle cx="610.26" cy="245.28" r="1.25"/>
<circle cx="610.21" cy="272.03" r="1.25"/>
<circle cx="610.52" cy="276.95" r="1.25"/>
<circle cx="610.17" cy="286.90" r="1.25"/>
<circle cx="614.72" cy="288.07" r="1.25"/>
<circle cx="606.97" cy="289.05" r="1.25"/>
<circle cx="618.23" cy="289.91" r="1.25"/>
<circle cx="602.51" cy="290.67" r="1.25"/>
<circle cx="610.34" cy="291.36" r="1.25"/>
<circle cx="614.65" cy="291.99" r="1.25"/>
<circle cx="606.04" cy="292.57" r="1.25"/>
<circle cx="620.43" cy="293.12" r="1.25"/>
<circle cx="600.27" cy="293.64" r="1.25"/>
<circle cx="611.48" cy="294.13" r="1.25"/>
<circle cx="616.80" cy="294.59" r="1.25"/>
<circle cx="604.30" cy="295.04" r="1.25"/>
<circle cx="608.59" cy="295.47" r="1.25"/>
<circle cx="620.08" cy="295.89" r="1.25"/>
<circle cx="613.06" cy="296.30" r="1.25"/>
<circle cx="600.68" cy="296.71" r="1.25"/>
<circle cx="604.95" cy="297.10" r="1.25"/>
<circle cx="616.43" cy="297.49" r="1.25"/>
<circle cx="609.27" cy="297.88" r="1.25"/>
<circle cx="620.28" cy="298.27" r="1.25"/>
<circle cx="601.17" cy="298.66" r="1.25"/>
<circle cx="612.85" cy="299.05" r="1.25"/>
<circle cx="605.78" cy="299.46" r="1.25"/>
<circle cx="616.91" cy="299.87" r="1.25"/>
<circle cx="609.34" cy="300.30" r="1.25"/>
<circle cx="600.24" cy="300.76" r="1.25"/>
<circle cx="620.30" cy="301.25" r="1.25"/>
<circle cx="604.05" cy="301.80" r="1.25"/>
<circle cx="613.16" cy="302.43" r="1.25"/>
<circle cx="607.44" cy="303.23" r="1.25"/>
<circle cx="616.86" cy="304.51" r="1.25"/>
</g>
<path d="M599.90,295.68 H620.90" stroke="#b3131b" stroke-width="1.6"/>
<rect x="117.1" y="397.5" width="143.70" height="107.89999999999998" fill="#8fc1a6"/>
<path d="M200.10,397.5 V505.4" stroke="#222" stroke-width="0.9" stroke-dasharray="1.1,1.2"/>
<path d="M44.5,397.5 H303.5 V505.4 H44.5 Z" fill="none" stroke="#6b6b6b" stroke-width="0.8"/>
<path d="M41.3,397.50 H44.5" stroke="#6b6b6b" stroke-width="0.8"/>
<path d="M41.3,451.50 H44.5" stroke="#6b6b6b" stroke-width="0.8"/>
<path d="M41.3,505.40 H44.5" stroke="#6b6b6b" stroke-width="0.8"/>
<text x="37.20" y="400.85" font-size="9.5" text-anchor="end" >100</text>
<text x="37.20" y="454.85" font-size="9.5" text-anchor="end" >10</text>
<text x="37.20" y="508.75" font-size="9.5" text-anchor="end" >1</text>
<path d="M44.50,505.4 V508.4" stroke="#6b6b6b" stroke-width="0.8"/>
<path d="M109.30,505.4 V508.4" stroke="#6b6b6b" stroke-width="0.8"/>
<path d="M174.50,505.4 V508.4" stroke="#6b6b6b" stroke-width="0.8"/>
<path d="M200.10,505.4 V508.4" stroke="#6b6b6b" stroke-width="0.8"/>
<path d="M239.10,505.4 V508.4" stroke="#6b6b6b" stroke-width="0.8"/>
<path d="M303.50,505.4 V508.4" stroke="#6b6b6b" stroke-width="0.8"/>
<text x="44.50" y="519.80" font-size="9.3" text-anchor="middle" >0</text>
<text x="109.30" y="519.80" font-size="9.3" text-anchor="middle" >50</text>
<text x="174.50" y="519.80" font-size="9.3" text-anchor="middle" >100</text>
<text x="200.10" y="519.80" font-size="9.3" text-anchor="middle" >120</text>
<text x="239.10" y="519.80" font-size="9.3" text-anchor="middle" >150</text>
<text x="303.50" y="519.80" font-size="9.3" text-anchor="middle" >200</text>
<text x="174.00" y="531.90" font-size="9.7" text-anchor="middle" >Days since diagnosis</text>
<text transform="translate(9.90,451.80) rotate(-90)" font-size="9.5" text-anchor="middle">Cytokine (pg/mL)</text>
<text x="45.00" y="384.30" font-size="9.4" text-anchor="start" >ALK_05</text>
<text x="49.20" y="394.70" font-size="6.9" text-anchor="middle" >ED</text>
<text x="118.90" y="394.70" font-size="6.9" text-anchor="middle" >SD</text>
<text x="146.80" y="394.70" font-size="6.9" text-anchor="middle" >SD</text>
<text x="170.90" y="394.70" font-size="6.9" text-anchor="middle" >SD</text>
<text x="201.20" y="394.70" font-size="6.9" text-anchor="middle" >SD</text>
<text x="243.20" y="394.70" font-size="6.9" text-anchor="middle" >PD</text>
<text x="261.60" y="394.70" font-size="6.9" text-anchor="middle" >Death</text>
<text x="47.30" y="405.80" font-size="7.0" text-anchor="start" font-style="italic" fill="#333">BL CTx</text>
<text x="117.90" y="405.30" font-size="7.0" text-anchor="start" font-style="italic" fill="#333">Crizotinib</text>
<path d="M45.70,431.40 L117.00,431.10 L144.30,435.00 L170.10,432.60 L200.00,423.10 L242.50,412.80 L260.80,414.40" fill="none" stroke="#4a639c" stroke-width="0.65"/>
<path d="M170.10,428.20 V437.50 M169.20,428.20 h1.8 M169.20,437.50 h1.8" stroke="#3a5596" stroke-width="0.7" fill="none"/>
<path d="M260.80,409.10 V420.60 M259.90,409.10 h1.8 M259.90,420.60 h1.8" stroke="#3a5596" stroke-width="0.7" fill="none"/>
<path d="M45.70,429.55 L47.55,431.40 L45.70,433.25 L43.85,431.40 Z" fill="#3d5daa"/>
<path d="M117.00,429.25 L118.85,431.10 L117.00,432.95 L115.15,431.10 Z" fill="#3d5daa"/>
<path d="M144.30,433.15 L146.15,435.00 L144.30,436.85 L142.45,435.00 Z" fill="#3d5daa"/>
<path d="M170.10,430.75 L171.95,432.60 L170.10,434.45 L168.25,432.60 Z" fill="#3d5daa"/>
<path d="M200.00,421.25 L201.85,423.10 L200.00,424.95 L198.15,423.10 Z" fill="#3d5daa"/>
<path d="M242.50,410.95 L244.35,412.80 L242.50,414.65 L240.65,412.80 Z" fill="#3d5daa"/>
<path d="M260.80,412.55 L262.65,414.40 L260.80,416.25 L258.95,414.40 Z" fill="#3d5daa"/>
<path d="M45.70,459.40 L117.00,468.20 L144.30,467.20 L170.10,476.40 L200.00,469.10 L242.50,447.60 L260.80,441.80" fill="none" stroke="#dd8650" stroke-width="0.65"/>
<path d="M170.10,474.00 V479.60 M169.20,474.00 h1.8 M169.20,479.60 h1.8" stroke="#d97a35" stroke-width="0.7" fill="none"/>
<path d="M260.80,434.80 V449.00 M259.90,434.80 h1.8 M259.90,449.00 h1.8" stroke="#d97a35" stroke-width="0.7" fill="none"/>
<path d="M43.65,457.80 H47.75 L45.70,461.30 Z" fill="#f68b2c"/>
<path d="M114.95,466.60 H119.05 L117.00,470.10 Z" fill="#f68b2c"/>
<path d="M142.25,465.60 H146.35 L144.30,469.10 Z" fill="#f68b2c"/>
<path d="M168.05,474.80 H172.15 L170.10,478.30 Z" fill="#f68b2c"/>
<path d="M197.95,467.50 H202.05 L200.00,471.00 Z" fill="#f68b2c"/>
<path d="M240.45,446.00 H244.55 L242.50,449.50 Z" fill="#f68b2c"/>
<path d="M258.75,440.20 H262.85 L260.80,443.70 Z" fill="#f68b2c"/>
<path d="M45.70,461.40 L117.00,453.60 L144.30,459.40 L170.10,461.30 L200.00,463.20 L242.50,460.00 L260.80,454.40" fill="none" stroke="#2f7259" stroke-width="0.65"/>
<path d="M260.80,449.40 V461.30 M259.90,449.40 h1.8 M259.90,461.30 h1.8" stroke="#276e52" stroke-width="0.7" fill="none"/>
<circle cx="45.70" cy="461.40" r="1.9" fill="#2a7b5c"/>
<circle cx="117.00" cy="453.60" r="1.9" fill="#2a7b5c"/>
<circle cx="144.30" cy="459.40" r="1.9" fill="#2a7b5c"/>
<circle cx="170.10" cy="461.30" r="1.9" fill="#2a7b5c"/>
<circle cx="200.00" cy="463.20" r="1.9" fill="#2a7b5c"/>
<circle cx="242.50" cy="460.00" r="1.9" fill="#2a7b5c"/>
<circle cx="260.80" cy="454.40" r="1.9" fill="#2a7b5c"/>
<path d="M308.10,400.90 H317.70" stroke="#8fc4a8" stroke-width="0.8"/>
<circle cx="313.10" cy="400.90" r="1.9" fill="#2a7b5c"/>
<text x="321.30" y="403.40" font-size="7" text-anchor="start" style="fill:#3b7a62;stroke:#3b7a62">IL-10</text>
<path d="M308.10,412.50 H317.70" stroke="#6d83bb" stroke-width="0.8"/>
<path d="M313.10,410.65 L314.95,412.50 L313.10,414.35 L311.25,412.50 Z" fill="#3d5daa"/>
<text x="321.30" y="415.00" font-size="7" text-anchor="start" style="fill:#5a6b9c;stroke:#5a6b9c">IL-8</text>
<path d="M308.10,424.00 H317.70" stroke="#f5c0a0" stroke-width="0.8"/>
<path d="M311.05,422.40 H315.15 L313.10,425.90 Z" fill="#f68b2c"/>
<text x="321.30" y="426.50" font-size="7" text-anchor="start" style="fill:#d98a6c;stroke:#d98a6c">IL-6</text>
<rect x="88.9" y="564.2" width="144.60" height="107.89999999999998" fill="#8fc1a6"/>
<rect x="232.9" y="564.2" width="49.50" height="107.89999999999998" fill="#f0c597"/>
<defs><pattern id="dots" x="273.9" y="564.2" width="4.2" height="4.4" patternUnits="userSpaceOnUse"><rect width="4.2" height="4.4" fill="#ecc193"/><rect x="0.5" y="0.6" width="1.0" height="1.0" fill="#5a4a3a"/><rect x="2.6" y="2.8" width="1.0" height="1.0" fill="#5a4a3a"/><rect x="2.6" y="0.6" width="0.9" height="0.9" fill="#a08660"/><rect x="0.5" y="2.8" width="0.9" height="0.9" fill="#a08660"/></pattern></defs>
<rect x="273.9" y="564.2" width="8.00" height="107.89999999999998" fill="url(#dots)"/>
<path d="M223.10,564.2 V672.1" stroke="#222" stroke-width="0.9" stroke-dasharray="1.1,1.2"/>
<path d="M242.80,564.2 V672.1" stroke="#222" stroke-width="0.9" stroke-dasharray="1.1,1.2"/>
<path d="M295.50,564.2 V672.1" stroke="#c8c8c8" stroke-width="0.6" stroke-dasharray="1.1,1.2"/>
<path d="M44.5,564.2 H304.4 V672.1 H44.5 Z" fill="none" stroke="#6b6b6b" stroke-width="0.8"/>
<path d="M41.3,564.20 H44.5" stroke="#6b6b6b" stroke-width="0.8"/>
<path d="M41.3,600.10 H44.5" stroke="#6b6b6b" stroke-width="0.8"/>
<path d="M41.3,636.10 H44.5" stroke="#6b6b6b" stroke-width="0.8"/>
<path d="M41.3,672.10 H44.5" stroke="#6b6b6b" stroke-width="0.8"/>
<text x="37.20" y="567.55" font-size="9.5" text-anchor="end" >1000</text>
<text x="37.20" y="603.45" font-size="9.5" text-anchor="end" >100</text>
<text x="37.20" y="639.45" font-size="9.5" text-anchor="end" >10</text>
<text x="37.20" y="675.45" font-size="9.5" text-anchor="end" >1</text>
<path d="M44.50,672.1 V675.1" stroke="#6b6b6b" stroke-width="0.8"/>
<path d="M118.60,672.1 V675.1" stroke="#6b6b6b" stroke-width="0.8"/>
<path d="M192.70,672.1 V675.1" stroke="#6b6b6b" stroke-width="0.8"/>
<path d="M222.90,672.1 V675.1" stroke="#6b6b6b" stroke-width="0.8"/>
<path d="M242.90,672.1 V675.1" stroke="#6b6b6b" stroke-width="0.8"/>
<path d="M266.80,672.1 V675.1" stroke="#6b6b6b" stroke-width="0.8"/>
<text x="44.50" y="686.40" font-size="9.3" text-anchor="middle" >0</text>
<text x="118.60" y="686.40" font-size="9.3" text-anchor="middle" >200</text>
<text x="192.70" y="686.40" font-size="9.3" text-anchor="middle" >400</text>
<text x="222.90" y="686.40" font-size="9.3" text-anchor="middle" >481</text>
<text x="242.90" y="686.40" font-size="9.3" text-anchor="middle" >535</text>
<text x="266.80" y="686.40" font-size="9.3" text-anchor="middle" >600</text>
<text x="174.50" y="698.50" font-size="9.7" text-anchor="middle" >Days since diagnosis</text>
<text transform="translate(8.30,618.30) rotate(-90)" font-size="9.5" text-anchor="middle">Cytokine (pg/mL)</text>
<text x="46.40" y="550.40" font-size="9.4" text-anchor="start" >ALK_44</text>
<text x="49.60" y="561.80" font-size="6.9" text-anchor="middle" >Naive</text>
<text x="91.70" y="561.80" font-size="6.9" text-anchor="middle" >PD</text>
<text x="138.90" y="561.80" font-size="6.9" text-anchor="middle" >SD</text>
<text x="158.30" y="561.80" font-size="6.9" text-anchor="middle" >mPD</text>
<text x="178.60" y="561.80" font-size="6.9" text-anchor="middle" >mPD</text>
<text x="218.80" y="561.80" font-size="6.9" text-anchor="middle" >mPD</text>
<text x="233.40" y="561.80" font-size="6.9" text-anchor="middle" >PD</text>
<text x="244.70" y="561.80" font-size="6.9" text-anchor="middle" >PD</text>
<text x="258.00" y="561.80" font-size="6.9" text-anchor="middle" >PD</text>
<text x="271.90" y="561.80" font-size="6.9" text-anchor="middle" >PD</text>
<text x="283.00" y="561.80" font-size="6.9" text-anchor="middle" >PD</text>
<text x="298.50" y="561.80" font-size="6.9" text-anchor="middle" >Death</text>
<text x="90.50" y="571.50" font-size="6.95" text-anchor="start" font-style="italic" fill="#333">BL Crizotinib</text>
<text x="244.7" y="571.5" font-size="7.0" font-style="italic" fill="#333">Ceritinib <tspan font-weight="bold" fill="#111">CTx</tspan></text>
<path d="M45.90,613.70 L88.90,620.10 L139.30,619.40 L160.10,615.60 L171.10,623.30 L223.10,600.90 L233.00,603.00 L242.80,622.30 L256.70,607.50 L274.10,601.50 L281.80,585.50" fill="none" stroke="#4a639c" stroke-width="0.65"/>
<path d="M45.90,611.85 L47.75,613.70 L45.90,615.55 L44.05,613.70 Z" fill="#3d5daa"/>
<path d="M88.90,618.25 L90.75,620.10 L88.90,621.95 L87.05,620.10 Z" fill="#3d5daa"/>
<path d="M139.30,617.55 L141.15,619.40 L139.30,621.25 L137.45,619.40 Z" fill="#3d5daa"/>
<path d="M160.10,613.75 L161.95,615.60 L160.10,617.45 L158.25,615.60 Z" fill="#3d5daa"/>
<path d="M171.10,621.45 L172.95,623.30 L171.10,625.15 L169.25,623.30 Z" fill="#3d5daa"/>
<path d="M223.10,599.05 L224.95,600.90 L223.10,602.75 L221.25,600.90 Z" fill="#3d5daa"/>
<path d="M233.00,601.15 L234.85,603.00 L233.00,604.85 L231.15,603.00 Z" fill="#3d5daa"/>
<path d="M242.80,620.45 L244.65,622.30 L242.80,624.15 L240.95,622.30 Z" fill="#3d5daa"/>
<path d="M256.70,605.65 L258.55,607.50 L256.70,609.35 L254.85,607.50 Z" fill="#3d5daa"/>
<path d="M274.10,599.65 L275.95,601.50 L274.10,603.35 L272.25,601.50 Z" fill="#3d5daa"/>
<path d="M281.80,583.65 L283.65,585.50 L281.80,587.35 L279.95,585.50 Z" fill="#3d5daa"/>
<path d="M45.90,622.40 L88.90,632.00 L139.30,636.40 L160.10,646.00 L171.10,644.10 L223.10,629.40 L233.00,614.20 L242.80,628.50 L256.70,621.70 L274.10,616.60 L281.80,600.60" fill="none" stroke="#dd8650" stroke-width="0.65"/>
<path d="M233.00,611.00 V617.50 M232.10,611.00 h1.8 M232.10,617.50 h1.8" stroke="#d97a35" stroke-width="0.7" fill="none"/>
<path d="M43.85,620.80 H47.95 L45.90,624.30 Z" fill="#f68b2c"/>
<path d="M86.85,630.40 H90.95 L88.90,633.90 Z" fill="#f68b2c"/>
<path d="M137.25,634.80 H141.35 L139.30,638.30 Z" fill="#f68b2c"/>
<path d="M158.05,644.40 H162.15 L160.10,647.90 Z" fill="#f68b2c"/>
<path d="M169.05,642.50 H173.15 L171.10,646.00 Z" fill="#f68b2c"/>
<path d="M221.05,627.80 H225.15 L223.10,631.30 Z" fill="#f68b2c"/>
<path d="M230.95,612.60 H235.05 L233.00,616.10 Z" fill="#f68b2c"/>
<path d="M240.75,626.90 H244.85 L242.80,630.40 Z" fill="#f68b2c"/>
<path d="M254.65,620.10 H258.75 L256.70,623.60 Z" fill="#f68b2c"/>
<path d="M272.05,615.00 H276.15 L274.10,618.50 Z" fill="#f68b2c"/>
<path d="M279.75,599.00 H283.85 L281.80,602.50 Z" fill="#f68b2c"/>
<path d="M45.90,633.10 L88.90,638.50 L139.30,640.40 L160.10,643.20 L171.10,646.90 L223.10,634.80 L233.00,633.90 L242.80,642.50 L256.70,630.50 L274.10,625.70 L281.80,625.40" fill="none" stroke="#2f7259" stroke-width="0.65"/>
<path d="M281.80,621.50 V629.00 M280.90,621.50 h1.8 M280.90,629.00 h1.8" stroke="#276e52" stroke-width="0.7" fill="none"/>
<circle cx="45.90" cy="633.10" r="1.9" fill="#2a7b5c"/>
<circle cx="88.90" cy="638.50" r="1.9" fill="#2a7b5c"/>
<circle cx="139.30" cy="640.40" r="1.9" fill="#2a7b5c"/>
<circle cx="160.10" cy="643.20" r="1.9" fill="#2a7b5c"/>
<circle cx="171.10" cy="646.90" r="1.9" fill="#2a7b5c"/>
<circle cx="223.10" cy="634.80" r="1.9" fill="#2a7b5c"/>
<circle cx="233.00" cy="633.90" r="1.9" fill="#2a7b5c"/>
<circle cx="242.80" cy="642.50" r="1.9" fill="#2a7b5c"/>
<circle cx="256.70" cy="630.50" r="1.9" fill="#2a7b5c"/>
<circle cx="274.10" cy="625.70" r="1.9" fill="#2a7b5c"/>
<circle cx="281.80" cy="625.40" r="1.9" fill="#2a7b5c"/>
<path d="M307.80,571.30 H317.40" stroke="#8fc4a8" stroke-width="0.8"/>
<circle cx="312.80" cy="571.30" r="1.9" fill="#2a7b5c"/>
<text x="321.00" y="573.80" font-size="7" text-anchor="start" style="fill:#3b7a62;stroke:#3b7a62">IL-10</text>
<path d="M307.80,581.80 H317.40" stroke="#6d83bb" stroke-width="0.8"/>
<path d="M312.80,579.95 L314.65,581.80 L312.80,583.65 L310.95,581.80 Z" fill="#3d5daa"/>
<text x="321.00" y="584.30" font-size="7" text-anchor="start" style="fill:#5a6b9c;stroke:#5a6b9c">IL-8</text>
<path d="M307.80,592.10 H317.40" stroke="#f5c0a0" stroke-width="0.8"/>
<path d="M310.75,590.50 H314.85 L312.80,594.00 Z" fill="#f68b2c"/>
<text x="321.00" y="594.60" font-size="7" text-anchor="start" style="fill:#d98a6c;stroke:#d98a6c">IL-6</text>
<rect x="432.0" y="398.0" width="21.10" height="108.10000000000002" fill="#8fc1a6"/>
<rect x="452.5" y="398.0" width="168.20" height="108.10000000000002" fill="#dd9f96"/>
<path d="M452.50,398.0 V506.1" stroke="#222" stroke-width="0.9" stroke-dasharray="1.1,1.2"/>
<path d="M391.5,506.1 V398.0 H650.6 V506.1" fill="none" stroke="#6b6b6b" stroke-width="0.8"/>
<path d="M391.5,506.1 H396.5 M403.3,506.1 H650.6 M396.5,504.1 V508.1 M403.3,504.1 V508.1" fill="none" stroke="#6b6b6b" stroke-width="0.8"/>
<path d="M388.3,398.00 H391.5" stroke="#6b6b6b" stroke-width="0.8"/>
<path d="M388.3,452.10 H391.5" stroke="#6b6b6b" stroke-width="0.8"/>
<path d="M388.3,506.10 H391.5" stroke="#6b6b6b" stroke-width="0.8"/>
<text x="384.20" y="401.35" font-size="9.5" text-anchor="end" >100</text>
<text x="384.20" y="455.45" font-size="9.5" text-anchor="end" >10</text>
<text x="384.20" y="509.45" font-size="9.5" text-anchor="end" >1</text>
<path d="M452.50,506.1 V509.1" stroke="#6b6b6b" stroke-width="0.8"/>
<path d="M473.50,506.1 V509.1" stroke="#6b6b6b" stroke-width="0.8"/>
<path d="M544.40,506.1 V509.1" stroke="#6b6b6b" stroke-width="0.8"/>
<path d="M615.60,506.1 V509.1" stroke="#6b6b6b" stroke-width="0.8"/>
<text x="452.50" y="520.70" font-size="9.3" text-anchor="middle" >541</text>
<text x="473.50" y="520.70" font-size="9.3" text-anchor="middle" >600</text>
<text x="544.40" y="520.70" font-size="9.3" text-anchor="middle" >800</text>
<text x="615.60" y="520.70" font-size="9.3" text-anchor="middle" >1000</text>
<text x="391.30" y="520.70" font-size="9.3" text-anchor="middle" >0</text>
<text x="524.80" y="533.60" font-size="9.7" text-anchor="middle" >Days since diagnosis</text>
<text transform="translate(360.00,452.40) rotate(-90)" font-size="9.5" text-anchor="middle">Cytokine (pg/mL)</text>
<text x="392.60" y="384.10" font-size="9.4" text-anchor="start" >ALK_27</text>
<text x="433.50" y="394.70" font-size="6.9" text-anchor="middle" >SD</text>
<text x="454.60" y="394.70" font-size="6.9" text-anchor="middle" >PD</text>
<text x="470.00" y="394.70" font-size="6.9" text-anchor="middle" >R</text>
<text x="498.30" y="394.70" font-size="6.9" text-anchor="middle" >SD</text>
<text x="569.80" y="394.70" font-size="6.9" text-anchor="middle" >BPD+RT</text>
<text x="598.20" y="394.70" font-size="6.9" text-anchor="middle" >SD</text>
<text x="620.70" y="394.70" font-size="6.9" text-anchor="middle" >SD</text>
<text x="428.50" y="406.60" font-size="7.0" text-anchor="start" font-style="italic" fill="#222">Crizotinib</text>
<text x="461.30" y="406.60" font-size="7.0" text-anchor="start" font-style="italic" fill="#222">Alectinib</text>
<path d="M432.00,449.00 L452.50,418.90 L469.40,446.60 L496.50,450.40 L568.60,443.20 L598.50,447.70 L620.70,447.70" fill="none" stroke="#4a639c" stroke-width="0.65"/>
<path d="M432.00,444.40 V452.80 M431.10,444.40 h1.8 M431.10,452.80 h1.8" stroke="#3a5596" stroke-width="0.7" fill="none"/>
<path d="M469.40,444.20 V449.70 M468.50,444.20 h1.8 M468.50,449.70 h1.8" stroke="#3a5596" stroke-width="0.7" fill="none"/>
<path d="M496.50,447.30 V453.40 M495.60,447.30 h1.8 M495.60,453.40 h1.8" stroke="#3a5596" stroke-width="0.7" fill="none"/>
<path d="M568.60,440.80 V445.90 M567.70,440.80 h1.8 M567.70,445.90 h1.8" stroke="#3a5596" stroke-width="0.7" fill="none"/>
<path d="M620.70,445.30 V450.40 M619.80,445.30 h1.8 M619.80,450.40 h1.8" stroke="#3a5596" stroke-width="0.7" fill="none"/>
<path d="M452.50,416.00 V422.00 M451.60,416.00 h1.8 M451.60,422.00 h1.8" stroke="#3a5596" stroke-width="0.7" fill="none"/>
<path d="M432.00,447.15 L433.85,449.00 L432.00,450.85 L430.15,449.00 Z" fill="#3d5daa"/>
<path d="M452.50,417.05 L454.35,418.90 L452.50,420.75 L450.65,418.90 Z" fill="#3d5daa"/>
<path d="M469.40,444.75 L471.25,446.60 L469.40,448.45 L467.55,446.60 Z" fill="#3d5daa"/>
<path d="M496.50,448.55 L498.35,450.40 L496.50,452.25 L494.65,450.40 Z" fill="#3d5daa"/>
<path d="M568.60,441.35 L570.45,443.20 L568.60,445.05 L566.75,443.20 Z" fill="#3d5daa"/>
<path d="M598.50,445.85 L600.35,447.70 L598.50,449.55 L596.65,447.70 Z" fill="#3d5daa"/>
<path d="M620.70,445.85 L622.55,447.70 L620.70,449.55 L618.85,447.70 Z" fill="#3d5daa"/>
<path d="M432.00,472.60 L452.50,438.20 L469.40,473.80 L496.50,477.30 L568.60,479.70 L598.50,465.70 L620.70,481.20" fill="none" stroke="#dd8650" stroke-width="0.65"/>
<path d="M469.40,469.40 V480.60 M468.50,469.40 h1.8 M468.50,480.60 h1.8" stroke="#d97a35" stroke-width="0.7" fill="none"/>
<path d="M598.50,461.80 V471.30 M597.60,461.80 h1.8 M597.60,471.30 h1.8" stroke="#d97a35" stroke-width="0.7" fill="none"/>
<path d="M620.70,477.30 V485.70 M619.80,477.30 h1.8 M619.80,485.70 h1.8" stroke="#d97a35" stroke-width="0.7" fill="none"/>
<path d="M429.95,471.00 H434.05 L432.00,474.50 Z" fill="#f68b2c"/>
<path d="M450.45,436.60 H454.55 L452.50,440.10 Z" fill="#f68b2c"/>
<path d="M467.35,472.20 H471.45 L469.40,475.70 Z" fill="#f68b2c"/>
<path d="M494.45,475.70 H498.55 L496.50,479.20 Z" fill="#f68b2c"/>
<path d="M566.55,478.10 H570.65 L568.60,481.60 Z" fill="#f68b2c"/>
<path d="M596.45,464.10 H600.55 L598.50,467.60 Z" fill="#f68b2c"/>
<path d="M618.65,479.60 H622.75 L620.70,483.10 Z" fill="#f68b2c"/>
<path d="M432.00,456.60 L452.50,421.20 L469.40,461.80 L496.50,454.60 L568.60,458.20 L598.50,458.50 L620.70,457.90" fill="none" stroke="#2f7259" stroke-width="0.65"/>
<path d="M568.60,454.30 V462.40 M567.70,454.30 h1.8 M567.70,462.40 h1.8" stroke="#276e52" stroke-width="0.7" fill="none"/>
<circle cx="432.00" cy="456.60" r="1.9" fill="#2a7b5c"/>
<circle cx="452.50" cy="421.20" r="1.9" fill="#2a7b5c"/>
<circle cx="469.40" cy="461.80" r="1.9" fill="#2a7b5c"/>
<circle cx="496.50" cy="454.60" r="1.9" fill="#2a7b5c"/>
<circle cx="568.60" cy="458.20" r="1.9" fill="#2a7b5c"/>
<circle cx="598.50" cy="458.50" r="1.9" fill="#2a7b5c"/>
<circle cx="620.70" cy="457.90" r="1.9" fill="#2a7b5c"/>
<path d="M654.00,404.90 H663.60" stroke="#8fc4a8" stroke-width="0.8"/>
<circle cx="659.00" cy="404.90" r="1.9" fill="#2a7b5c"/>
<text x="667.20" y="407.40" font-size="7" text-anchor="start" style="fill:#3b7a62;stroke:#3b7a62">IL-10</text>
<path d="M654.00,415.10 H663.60" stroke="#6d83bb" stroke-width="0.8"/>
<path d="M659.00,413.25 L660.85,415.10 L659.00,416.95 L657.15,415.10 Z" fill="#3d5daa"/>
<text x="667.20" y="417.60" font-size="7" text-anchor="start" style="fill:#5a6b9c;stroke:#5a6b9c">IL-8</text>
<path d="M654.00,425.20 H663.60" stroke="#f5c0a0" stroke-width="0.8"/>
<path d="M656.95,423.60 H661.05 L659.00,427.10 Z" fill="#f68b2c"/>
<text x="667.20" y="427.70" font-size="7" text-anchor="start" style="fill:#d98a6c;stroke:#d98a6c">IL-6</text>
<rect x="445.6" y="559.3" width="176.70" height="107.90000000000009" fill="#7fb6d8"/>
<path d="M393.6,667.2 V559.3 H652.6 V667.2" fill="none" stroke="#6b6b6b" stroke-width="0.8"/>
<path d="M393.6,667.2 H398.3 M405.2,667.2 H652.6 M398.3,665.2 V669.2 M405.2,665.2 V669.2" fill="none" stroke="#6b6b6b" stroke-width="0.8"/>
<path d="M390.40000000000003,559.30 H393.6" stroke="#6b6b6b" stroke-width="0.8"/>
<path d="M390.40000000000003,613.20 H393.6" stroke="#6b6b6b" stroke-width="0.8"/>
<path d="M390.40000000000003,667.20 H393.6" stroke="#6b6b6b" stroke-width="0.8"/>
<text x="386.30" y="562.65" font-size="9.5" text-anchor="end" >100</text>
<text x="386.30" y="616.55" font-size="9.5" text-anchor="end" >10</text>
<text x="386.30" y="670.55" font-size="9.5" text-anchor="end" >1</text>
<path d="M450.80,667.2 V670.2" stroke="#6b6b6b" stroke-width="0.8"/>
<path d="M501.00,667.2 V670.2" stroke="#6b6b6b" stroke-width="0.8"/>
<path d="M551.30,667.2 V670.2" stroke="#6b6b6b" stroke-width="0.8"/>
<path d="M602.10,667.2 V670.2" stroke="#6b6b6b" stroke-width="0.8"/>
<path d="M652.60,667.2 V670.2" stroke="#6b6b6b" stroke-width="0.8"/>
<text x="450.80" y="681.90" font-size="9.3" text-anchor="middle" >60</text>
<text x="501.00" y="681.90" font-size="9.3" text-anchor="middle" >70</text>
<text x="551.30" y="681.90" font-size="9.3" text-anchor="middle" >80</text>
<text x="602.10" y="681.90" font-size="9.3" text-anchor="middle" >90</text>
<text x="652.60" y="681.90" font-size="9.3" text-anchor="middle" >100</text>
<text x="393.30" y="681.90" font-size="9.3" text-anchor="middle" >0</text>
<text x="528.90" y="695.60" font-size="9.7" text-anchor="middle" >Days since diagnosis</text>
<text transform="translate(360.00,613.50) rotate(-90)" font-size="9.5" text-anchor="middle">Cytokine (pg/mL)</text>
<text x="395.20" y="550.50" font-size="9.4" text-anchor="start" >ALK_40</text>
<text x="518.10" y="556.50" font-size="9.0" text-anchor="middle" >R</text>
<text x="553.50" y="556.50" font-size="9.0" text-anchor="middle" >R</text>
<text x="624.20" y="556.50" font-size="9.0" text-anchor="middle" >R</text>
<text x="448.60" y="567.20" font-size="8.2" text-anchor="start" font-style="italic" fill="#222">BL Brigatinib</text>
<path d="M445.60,578.90 L516.40,614.10 L551.30,616.70 L622.30,621.80" fill="none" stroke="#4a639c" stroke-width="0.65"/>
<path d="M445.60,572.00 V585.00 M444.70,572.00 h1.8 M444.70,585.00 h1.8" stroke="#3a5596" stroke-width="0.7" fill="none"/>
<path d="M516.40,610.00 V618.00 M515.50,610.00 h1.8 M515.50,618.00 h1.8" stroke="#3a5596" stroke-width="0.7" fill="none"/>
<path d="M551.30,612.40 V621.00 M550.40,612.40 h1.8 M550.40,621.00 h1.8" stroke="#3a5596" stroke-width="0.7" fill="none"/>
<path d="M622.30,617.80 V625.90 M621.40,617.80 h1.8 M621.40,625.90 h1.8" stroke="#3a5596" stroke-width="0.7" fill="none"/>
<path d="M445.60,577.05 L447.45,578.90 L445.60,580.75 L443.75,578.90 Z" fill="#3d5daa"/>
<path d="M516.40,612.25 L518.25,614.10 L516.40,615.95 L514.55,614.10 Z" fill="#3d5daa"/>
<path d="M551.30,614.85 L553.15,616.70 L551.30,618.55 L549.45,616.70 Z" fill="#3d5daa"/>
<path d="M622.30,619.95 L624.15,621.80 L622.30,623.65 L620.45,621.80 Z" fill="#3d5daa"/>
<path d="M445.60,570.20 L516.40,633.30 L551.30,648.30 L622.30,642.60" fill="none" stroke="#dd8650" stroke-width="0.65"/>
<path d="M622.30,638.00 V650.20 M621.40,638.00 h1.8 M621.40,650.20 h1.8" stroke="#d97a35" stroke-width="0.7" fill="none"/>
<path d="M445.60,566.00 V574.00 M444.70,566.00 h1.8 M444.70,574.00 h1.8" stroke="#d97a35" stroke-width="0.7" fill="none"/>
<path d="M443.55,568.60 H447.65 L445.60,572.10 Z" fill="#f68b2c"/>
<path d="M514.35,631.70 H518.45 L516.40,635.20 Z" fill="#f68b2c"/>
<path d="M549.25,646.70 H553.35 L551.30,650.20 Z" fill="#f68b2c"/>
<path d="M620.25,641.00 H624.35 L622.30,644.50 Z" fill="#f68b2c"/>
<path d="M445.60,597.00 L516.40,636.60 L551.30,638.60 L622.30,622.40" fill="none" stroke="#2f7259" stroke-width="0.65"/>
<path d="M551.30,634.80 V642.30 M550.40,634.80 h1.8 M550.40,642.30 h1.8" stroke="#276e52" stroke-width="0.7" fill="none"/>
<circle cx="445.60" cy="597.00" r="1.9" fill="#2a7b5c"/>
<circle cx="516.40" cy="636.60" r="1.9" fill="#2a7b5c"/>
<circle cx="551.30" cy="638.60" r="1.9" fill="#2a7b5c"/>
<circle cx="622.30" cy="622.40" r="1.9" fill="#2a7b5c"/>
<path d="M656.20,564.30 H665.80" stroke="#8fc4a8" stroke-width="0.8"/>
<circle cx="661.20" cy="564.30" r="1.9" fill="#2a7b5c"/>
<text x="669.40" y="566.80" font-size="7" text-anchor="start" style="fill:#3b7a62;stroke:#3b7a62">IL-10</text>
<path d="M656.20,574.60 H665.80" stroke="#6d83bb" stroke-width="0.8"/>
<path d="M661.20,572.75 L663.05,574.60 L661.20,576.45 L659.35,574.60 Z" fill="#3d5daa"/>
<text x="669.40" y="577.10" font-size="7" text-anchor="start" style="fill:#5a6b9c;stroke:#5a6b9c">IL-8</text>
<path d="M656.20,584.80 H665.80" stroke="#f5c0a0" stroke-width="0.8"/>
<path d="M659.15,583.20 H663.25 L661.20,586.70 Z" fill="#f68b2c"/>
<text x="669.40" y="587.30" font-size="7" text-anchor="start" style="fill:#d98a6c;stroke:#d98a6c">IL-6</text>
<text x="-0.60" y="8.00" font-size="14" text-anchor="start" font-weight="bold">a</text>
<text x="-0.20" y="380.60" font-size="13.5" text-anchor="start" font-weight="bold">b</text>
<text x="351.20" y="380.90" font-size="14" text-anchor="start" font-weight="bold">c</text>
</svg>
</body></html>
